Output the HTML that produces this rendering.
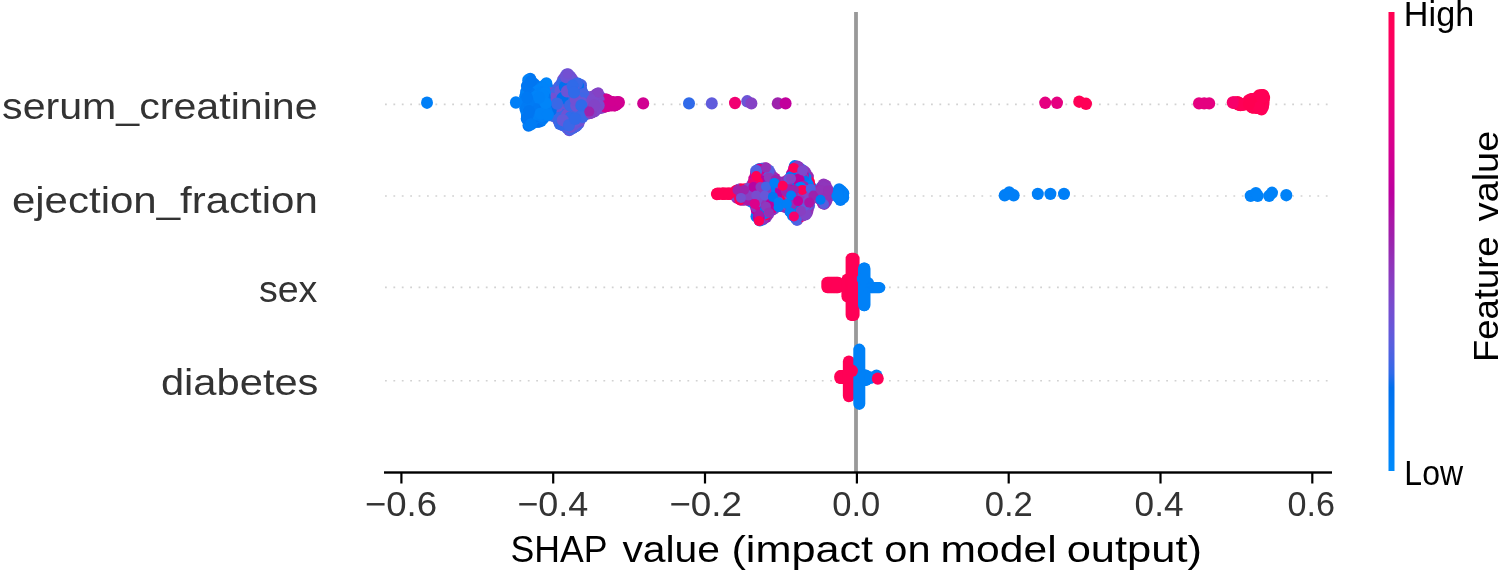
<!DOCTYPE html>
<html><head><meta charset="utf-8"><title>SHAP summary</title>
<style>html,body{margin:0;padding:0;background:#fff;}body{width:1500px;height:573px;position:relative;overflow:hidden;font-family:"Liberation Sans",sans-serif;}</style>
</head><body>
<svg width="1500" height="573" viewBox="0 0 1500 573" style="position:absolute;left:0;top:0;filter:blur(0.5px)">
<defs><linearGradient id="cb" x1="0" y1="1" x2="0" y2="0">
<stop offset="0.000" stop-color="#008bfb"/>
<stop offset="0.030" stop-color="#0086fa"/>
<stop offset="0.061" stop-color="#0082f8"/>
<stop offset="0.091" stop-color="#007ef6"/>
<stop offset="0.121" stop-color="#0079f3"/>
<stop offset="0.152" stop-color="#0074f0"/>
<stop offset="0.182" stop-color="#006fed"/>
<stop offset="0.212" stop-color="#306ae9"/>
<stop offset="0.242" stop-color="#4664e4"/>
<stop offset="0.273" stop-color="#575fdf"/>
<stop offset="0.303" stop-color="#6459da"/>
<stop offset="0.333" stop-color="#6f52d4"/>
<stop offset="0.364" stop-color="#794cce"/>
<stop offset="0.394" stop-color="#8244c7"/>
<stop offset="0.424" stop-color="#8a3cc0"/>
<stop offset="0.455" stop-color="#9233b9"/>
<stop offset="0.485" stop-color="#9829b1"/>
<stop offset="0.515" stop-color="#a01fab"/>
<stop offset="0.545" stop-color="#aa17a7"/>
<stop offset="0.576" stop-color="#b30aa3"/>
<stop offset="0.606" stop-color="#bc009f"/>
<stop offset="0.636" stop-color="#c5009a"/>
<stop offset="0.667" stop-color="#cd0095"/>
<stop offset="0.697" stop-color="#d40090"/>
<stop offset="0.727" stop-color="#db008a"/>
<stop offset="0.758" stop-color="#e10084"/>
<stop offset="0.788" stop-color="#e7007e"/>
<stop offset="0.818" stop-color="#ec0078"/>
<stop offset="0.848" stop-color="#f10072"/>
<stop offset="0.879" stop-color="#f6006c"/>
<stop offset="0.909" stop-color="#fa0065"/>
<stop offset="0.939" stop-color="#fd005f"/>
<stop offset="0.970" stop-color="#ff0058"/>
<stop offset="1.000" stop-color="#ff0051"/>
<stop offset="1" stop-color="#ff0051"/>
</linearGradient></defs>
<line x1="385.0" y1="104.4" x2="1332.0" y2="104.4" stroke="#d2d2d2" stroke-width="1.6" stroke-dasharray="1.8 6.6"/>
<line x1="385.0" y1="196.0" x2="1332.0" y2="196.0" stroke="#d2d2d2" stroke-width="1.6" stroke-dasharray="1.8 6.6"/>
<line x1="385.0" y1="287.4" x2="1332.0" y2="287.4" stroke="#d2d2d2" stroke-width="1.6" stroke-dasharray="1.8 6.6"/>
<line x1="385.0" y1="380.8" x2="1332.0" y2="380.8" stroke="#d2d2d2" stroke-width="1.6" stroke-dasharray="1.8 6.6"/>
<rect x="854.1" y="12" width="3.8" height="460.5" fill="#999999"/>
<rect x="821.30" y="276.80" width="12.0" height="16.50" rx="6.0" ry="6.2" fill="#ff0056"/>
<rect x="822.27" y="276.80" width="12.0" height="16.50" rx="6.0" ry="6.2" fill="#ff0056"/>
<rect x="823.25" y="276.80" width="12.0" height="16.50" rx="6.0" ry="6.2" fill="#ff0056"/>
<rect x="824.22" y="276.80" width="12.0" height="16.50" rx="6.0" ry="6.2" fill="#ff0056"/>
<rect x="825.19" y="276.80" width="12.0" height="16.50" rx="6.0" ry="6.2" fill="#ff0056"/>
<rect x="826.16" y="276.80" width="12.0" height="16.50" rx="6.0" ry="6.2" fill="#ff0056"/>
<rect x="827.14" y="276.80" width="12.0" height="16.50" rx="6.0" ry="6.2" fill="#ff0056"/>
<rect x="828.11" y="276.80" width="12.0" height="16.50" rx="6.0" ry="6.2" fill="#ff0056"/>
<rect x="829.08" y="276.80" width="12.0" height="16.50" rx="6.0" ry="6.2" fill="#ff0056"/>
<rect x="830.05" y="276.80" width="12.0" height="16.50" rx="6.0" ry="6.2" fill="#ff0056"/>
<rect x="831.03" y="276.80" width="12.0" height="16.50" rx="6.0" ry="6.2" fill="#ff0056"/>
<rect x="832.00" y="276.80" width="12.0" height="16.50" rx="6.0" ry="6.2" fill="#ff0056"/>
<rect x="841.40" y="273.50" width="12.0" height="29.00" rx="6.0" ry="6.2" fill="#ff0056"/>
<rect x="845.60" y="252.70" width="12.0" height="68.40" rx="6.0" ry="6.2" fill="#ff0056"/>
<rect x="846.60" y="252.70" width="12.0" height="68.40" rx="6.0" ry="6.2" fill="#ff0056"/>
<rect x="847.60" y="252.70" width="12.0" height="68.40" rx="6.0" ry="6.2" fill="#ff0056"/>
<rect x="858.00" y="262.50" width="12.0" height="48.80" rx="6.0" ry="6.2" fill="#0081f7"/>
<rect x="858.50" y="262.50" width="12.0" height="48.80" rx="6.0" ry="6.2" fill="#0081f7"/>
<rect x="862.00" y="277.00" width="12.0" height="16.50" rx="6.0" ry="6.2" fill="#0081f7"/>
<rect x="865.00" y="282.00" width="12.0" height="11.20" rx="6.0" ry="6.2" fill="#0081f7"/>
<rect x="865.93" y="282.00" width="12.0" height="11.20" rx="6.0" ry="6.2" fill="#0081f7"/>
<rect x="866.87" y="282.00" width="12.0" height="11.20" rx="6.0" ry="6.2" fill="#0081f7"/>
<rect x="867.80" y="282.00" width="12.0" height="11.20" rx="6.0" ry="6.2" fill="#0081f7"/>
<rect x="868.73" y="282.00" width="12.0" height="11.20" rx="6.0" ry="6.2" fill="#0081f7"/>
<rect x="869.67" y="282.00" width="12.0" height="11.20" rx="6.0" ry="6.2" fill="#0081f7"/>
<rect x="870.60" y="282.00" width="12.0" height="11.20" rx="6.0" ry="6.2" fill="#0081f7"/>
<rect x="871.53" y="282.00" width="12.0" height="11.20" rx="6.0" ry="6.2" fill="#0081f7"/>
<rect x="872.47" y="282.00" width="12.0" height="11.20" rx="6.0" ry="6.2" fill="#0081f7"/>
<rect x="873.40" y="282.00" width="12.0" height="11.20" rx="6.0" ry="6.2" fill="#0081f7"/>
<rect x="834.20" y="370.10" width="12.0" height="13.90" rx="6.0" ry="6.2" fill="#ff0056"/>
<rect x="835.13" y="370.10" width="12.0" height="13.90" rx="6.0" ry="6.2" fill="#ff0056"/>
<rect x="836.07" y="370.10" width="12.0" height="13.90" rx="6.0" ry="6.2" fill="#ff0056"/>
<rect x="837.00" y="370.10" width="12.0" height="13.90" rx="6.0" ry="6.2" fill="#ff0056"/>
<rect x="842.85" y="355.40" width="12.0" height="46.80" rx="6.0" ry="6.2" fill="#ff0056"/>
<ellipse cx="588.3" cy="108.7" rx="6.0" ry="6.2" fill="#883fc2"/>
<ellipse cx="557.8" cy="98.9" rx="6.0" ry="6.2" fill="#3968e7"/>
<ellipse cx="615.1" cy="105.1" rx="6.0" ry="6.2" fill="#d6008e"/>
<ellipse cx="588.3" cy="102.7" rx="6.0" ry="6.2" fill="#8a3cc0"/>
<ellipse cx="1261.1" cy="102.3" rx="6.0" ry="6.2" fill="#ff0053"/>
<ellipse cx="561.0" cy="112.2" rx="6.0" ry="6.2" fill="#4664e4"/>
<ellipse cx="529.1" cy="84.9" rx="6.0" ry="6.2" fill="#0084f9"/>
<ellipse cx="555.8" cy="90.7" rx="6.0" ry="6.2" fill="#6f52d4"/>
<ellipse cx="546.0" cy="86.2" rx="6.0" ry="6.2" fill="#0081f7"/>
<ellipse cx="525.6" cy="105.9" rx="6.0" ry="6.2" fill="#0076f1"/>
<ellipse cx="558.5" cy="115.7" rx="6.0" ry="6.2" fill="#6f52d4"/>
<ellipse cx="569.7" cy="127.7" rx="6.0" ry="6.2" fill="#4664e4"/>
<ellipse cx="564.5" cy="118.3" rx="6.0" ry="6.2" fill="#4066e6"/>
<ellipse cx="592.7" cy="102.4" rx="6.0" ry="6.2" fill="#962db3"/>
<ellipse cx="1233.6" cy="102.6" rx="6.0" ry="6.2" fill="#f7006a"/>
<ellipse cx="592.9" cy="106.6" rx="6.0" ry="6.2" fill="#8244c7"/>
<ellipse cx="532.1" cy="101.6" rx="6.0" ry="6.2" fill="#0082f8"/>
<ellipse cx="582.4" cy="100.8" rx="6.0" ry="6.2" fill="#4066e6"/>
<ellipse cx="558.6" cy="113.3" rx="6.0" ry="6.2" fill="#6f52d4"/>
<ellipse cx="527.1" cy="100.1" rx="6.0" ry="6.2" fill="#0081f7"/>
<ellipse cx="582.7" cy="103.4" rx="6.0" ry="6.2" fill="#006fed"/>
<ellipse cx="564.9" cy="123.2" rx="6.0" ry="6.2" fill="#4066e6"/>
<ellipse cx="528.4" cy="88.4" rx="6.0" ry="6.2" fill="#007bf4"/>
<ellipse cx="574.2" cy="126.9" rx="6.0" ry="6.2" fill="#4066e6"/>
<ellipse cx="558.1" cy="108.6" rx="6.0" ry="6.2" fill="#3968e7"/>
<ellipse cx="587.6" cy="111.0" rx="6.0" ry="6.2" fill="#5b5ddd"/>
<ellipse cx="568.6" cy="103.9" rx="6.0" ry="6.2" fill="#4066e6"/>
<ellipse cx="558.8" cy="118.1" rx="6.0" ry="6.2" fill="#3968e7"/>
<ellipse cx="1248.4" cy="102.3" rx="6.0" ry="6.2" fill="#ff0051"/>
<ellipse cx="1258.1" cy="107.8" rx="6.0" ry="6.2" fill="#ff0056"/>
<ellipse cx="576.7" cy="86.0" rx="6.0" ry="6.2" fill="#306ae9"/>
<ellipse cx="594.2" cy="96.1" rx="6.0" ry="6.2" fill="#8a3cc0"/>
<ellipse cx="589.4" cy="100.1" rx="6.0" ry="6.2" fill="#883fc2"/>
<ellipse cx="574.8" cy="97.3" rx="6.0" ry="6.2" fill="#3968e7"/>
<ellipse cx="562.3" cy="107.8" rx="6.0" ry="6.2" fill="#6857d8"/>
<ellipse cx="567.6" cy="128.4" rx="6.0" ry="6.2" fill="#3968e7"/>
<ellipse cx="570.9" cy="112.6" rx="6.0" ry="6.2" fill="#306ae9"/>
<ellipse cx="564.5" cy="86.5" rx="6.0" ry="6.2" fill="#3968e7"/>
<ellipse cx="561.8" cy="122.1" rx="6.0" ry="6.2" fill="#306ae9"/>
<ellipse cx="567.3" cy="123.5" rx="6.0" ry="6.2" fill="#3968e7"/>
<ellipse cx="542.0" cy="99.1" rx="6.0" ry="6.2" fill="#0082f8"/>
<ellipse cx="569.1" cy="115.5" rx="6.0" ry="6.2" fill="#306ae9"/>
<ellipse cx="578.5" cy="123.4" rx="6.0" ry="6.2" fill="#6857d8"/>
<ellipse cx="526.5" cy="109.4" rx="6.0" ry="6.2" fill="#0085f9"/>
<ellipse cx="567.4" cy="106.4" rx="6.0" ry="6.2" fill="#4066e6"/>
<ellipse cx="547.4" cy="112.6" rx="6.0" ry="6.2" fill="#007ff7"/>
<ellipse cx="550.7" cy="112.7" rx="6.0" ry="6.2" fill="#4664e4"/>
<ellipse cx="558.0" cy="91.9" rx="6.0" ry="6.2" fill="#4066e6"/>
<ellipse cx="543.9" cy="114.1" rx="6.0" ry="6.2" fill="#0082f8"/>
<ellipse cx="546.4" cy="83.5" rx="6.0" ry="6.2" fill="#0085f9"/>
<ellipse cx="551.5" cy="91.2" rx="6.0" ry="6.2" fill="#3968e7"/>
<ellipse cx="602.7" cy="102.0" rx="6.0" ry="6.2" fill="#9829b1"/>
<ellipse cx="564.8" cy="115.8" rx="6.0" ry="6.2" fill="#3968e7"/>
<ellipse cx="1252.0" cy="101.7" rx="6.0" ry="6.2" fill="#ff0058"/>
<ellipse cx="531.1" cy="99.2" rx="6.0" ry="6.2" fill="#007cf5"/>
<ellipse cx="568.6" cy="101.5" rx="6.0" ry="6.2" fill="#3968e7"/>
<ellipse cx="585.0" cy="101.1" rx="6.0" ry="6.2" fill="#4066e6"/>
<ellipse cx="561.1" cy="105.4" rx="6.0" ry="6.2" fill="#006fed"/>
<ellipse cx="540.4" cy="102.3" rx="6.0" ry="6.2" fill="#0077f2"/>
<ellipse cx="583.9" cy="114.0" rx="6.0" ry="6.2" fill="#6f52d4"/>
<ellipse cx="585.1" cy="108.8" rx="6.0" ry="6.2" fill="#6f52d4"/>
<ellipse cx="530.4" cy="122.0" rx="6.0" ry="6.2" fill="#007bf4"/>
<ellipse cx="565.5" cy="93.6" rx="6.0" ry="6.2" fill="#7350d2"/>
<ellipse cx="580.8" cy="92.4" rx="6.0" ry="6.2" fill="#6459da"/>
<ellipse cx="550.2" cy="105.3" rx="6.0" ry="6.2" fill="#4066e6"/>
<ellipse cx="552.6" cy="96.2" rx="6.0" ry="6.2" fill="#3968e7"/>
<ellipse cx="574.4" cy="99.8" rx="6.0" ry="6.2" fill="#306ae9"/>
<ellipse cx="555.5" cy="102.4" rx="6.0" ry="6.2" fill="#3968e7"/>
<ellipse cx="561.3" cy="84.2" rx="6.0" ry="6.2" fill="#306ae9"/>
<ellipse cx="579.1" cy="104.3" rx="6.0" ry="6.2" fill="#6459da"/>
<ellipse cx="526.5" cy="95.4" rx="6.0" ry="6.2" fill="#0079f3"/>
<ellipse cx="531.4" cy="87.1" rx="6.0" ry="6.2" fill="#0082f8"/>
<ellipse cx="1261.6" cy="95.2" rx="6.0" ry="6.2" fill="#ff0056"/>
<ellipse cx="578.8" cy="109.4" rx="6.0" ry="6.2" fill="#3968e7"/>
<ellipse cx="567.1" cy="125.9" rx="6.0" ry="6.2" fill="#6857d8"/>
<ellipse cx="573.1" cy="114.6" rx="6.0" ry="6.2" fill="#4066e6"/>
<ellipse cx="573.7" cy="117.1" rx="6.0" ry="6.2" fill="#6857d8"/>
<ellipse cx="551.9" cy="100.9" rx="6.0" ry="6.2" fill="#7350d2"/>
<ellipse cx="546.2" cy="105.6" rx="6.0" ry="6.2" fill="#0086fa"/>
<ellipse cx="1256.1" cy="107.6" rx="6.0" ry="6.2" fill="#ff0058"/>
<ellipse cx="548.3" cy="103.3" rx="6.0" ry="6.2" fill="#0081f7"/>
<ellipse cx="570.4" cy="115.0" rx="6.0" ry="6.2" fill="#006fed"/>
<ellipse cx="550.7" cy="90.6" rx="6.0" ry="6.2" fill="#6f52d4"/>
<ellipse cx="562.6" cy="91.2" rx="6.0" ry="6.2" fill="#6857d8"/>
<ellipse cx="531.8" cy="120.8" rx="6.0" ry="6.2" fill="#0085f9"/>
<ellipse cx="542.1" cy="106.4" rx="6.0" ry="6.2" fill="#0085f9"/>
<ellipse cx="577.0" cy="125.1" rx="6.0" ry="6.2" fill="#4066e6"/>
<ellipse cx="566.9" cy="107.7" rx="6.0" ry="6.2" fill="#3968e7"/>
<ellipse cx="570.3" cy="86.3" rx="6.0" ry="6.2" fill="#4664e4"/>
<ellipse cx="568.0" cy="116.2" rx="6.0" ry="6.2" fill="#4066e6"/>
<ellipse cx="565.8" cy="81.7" rx="6.0" ry="6.2" fill="#3968e7"/>
<ellipse cx="552.8" cy="101.1" rx="6.0" ry="6.2" fill="#3968e7"/>
<ellipse cx="533.0" cy="103.3" rx="6.0" ry="6.2" fill="#007ef6"/>
<ellipse cx="616.3" cy="102.4" rx="6.0" ry="6.2" fill="#cf0093"/>
<ellipse cx="547.4" cy="103.0" rx="6.0" ry="6.2" fill="#0084f9"/>
<ellipse cx="596.0" cy="96.9" rx="6.0" ry="6.2" fill="#a31daa"/>
<ellipse cx="1246.8" cy="103.5" rx="6.0" ry="6.2" fill="#ff0056"/>
<ellipse cx="562.3" cy="103.1" rx="6.0" ry="6.2" fill="#6c54d6"/>
<ellipse cx="1261.6" cy="99.7" rx="6.0" ry="6.2" fill="#ff0053"/>
<ellipse cx="542.8" cy="86.9" rx="6.0" ry="6.2" fill="#0074f0"/>
<ellipse cx="569.1" cy="91.3" rx="6.0" ry="6.2" fill="#4066e6"/>
<ellipse cx="592.4" cy="107.3" rx="6.0" ry="6.2" fill="#7d49cc"/>
<ellipse cx="559.7" cy="119.2" rx="6.0" ry="6.2" fill="#306ae9"/>
<ellipse cx="613.6" cy="102.6" rx="6.0" ry="6.2" fill="#d6008e"/>
<ellipse cx="603.3" cy="102.0" rx="6.0" ry="6.2" fill="#794cce"/>
<ellipse cx="1255.6" cy="105.5" rx="6.0" ry="6.2" fill="#ff0056"/>
<ellipse cx="559.6" cy="86.5" rx="6.0" ry="6.2" fill="#6c54d6"/>
<ellipse cx="585.0" cy="106.2" rx="6.0" ry="6.2" fill="#306ae9"/>
<ellipse cx="531.2" cy="102.8" rx="6.0" ry="6.2" fill="#0074f0"/>
<ellipse cx="545.5" cy="90.9" rx="6.0" ry="6.2" fill="#0079f3"/>
<ellipse cx="563.0" cy="88.9" rx="6.0" ry="6.2" fill="#4664e4"/>
<ellipse cx="579.5" cy="99.5" rx="6.0" ry="6.2" fill="#4664e4"/>
<ellipse cx="595.4" cy="100.8" rx="6.0" ry="6.2" fill="#8244c7"/>
<ellipse cx="534.1" cy="112.2" rx="6.0" ry="6.2" fill="#0074f0"/>
<ellipse cx="542.1" cy="89.4" rx="6.0" ry="6.2" fill="#007ff7"/>
<ellipse cx="609.4" cy="103.5" rx="6.0" ry="6.2" fill="#d6008e"/>
<ellipse cx="535.7" cy="121.5" rx="6.0" ry="6.2" fill="#0085f9"/>
<ellipse cx="555.3" cy="113.3" rx="6.0" ry="6.2" fill="#4066e6"/>
<ellipse cx="552.5" cy="113.1" rx="6.0" ry="6.2" fill="#3968e7"/>
<ellipse cx="576.5" cy="90.4" rx="6.0" ry="6.2" fill="#4066e6"/>
<ellipse cx="537.5" cy="102.2" rx="6.0" ry="6.2" fill="#0081f7"/>
<ellipse cx="1239.6" cy="104.9" rx="6.0" ry="6.2" fill="#ff0056"/>
<ellipse cx="535.6" cy="86.2" rx="6.0" ry="6.2" fill="#0082f8"/>
<ellipse cx="565.9" cy="100.7" rx="6.0" ry="6.2" fill="#3968e7"/>
<ellipse cx="534.6" cy="121.7" rx="6.0" ry="6.2" fill="#007bf4"/>
<ellipse cx="565.7" cy="96.3" rx="6.0" ry="6.2" fill="#6857d8"/>
<ellipse cx="586.3" cy="111.1" rx="6.0" ry="6.2" fill="#3968e7"/>
<ellipse cx="567.2" cy="117.2" rx="6.0" ry="6.2" fill="#6f52d4"/>
<ellipse cx="529.4" cy="89.7" rx="6.0" ry="6.2" fill="#007bf4"/>
<ellipse cx="550.7" cy="105.7" rx="6.0" ry="6.2" fill="#3968e7"/>
<ellipse cx="583.7" cy="98.8" rx="6.0" ry="6.2" fill="#4066e6"/>
<ellipse cx="586.2" cy="104.0" rx="6.0" ry="6.2" fill="#3968e7"/>
<ellipse cx="556.6" cy="97.7" rx="6.0" ry="6.2" fill="#4664e4"/>
<ellipse cx="569.9" cy="120.4" rx="6.0" ry="6.2" fill="#4664e4"/>
<ellipse cx="542.9" cy="104.0" rx="6.0" ry="6.2" fill="#0085f9"/>
<ellipse cx="575.6" cy="109.4" rx="6.0" ry="6.2" fill="#6f52d4"/>
<ellipse cx="1253.3" cy="99.5" rx="6.0" ry="6.2" fill="#ff0053"/>
<ellipse cx="530.9" cy="119.6" rx="6.0" ry="6.2" fill="#0085f9"/>
<ellipse cx="565.5" cy="76.8" rx="6.0" ry="6.2" fill="#7350d2"/>
<ellipse cx="528.4" cy="83.7" rx="6.0" ry="6.2" fill="#0081f7"/>
<ellipse cx="568.7" cy="86.8" rx="6.0" ry="6.2" fill="#4664e4"/>
<ellipse cx="566.4" cy="112.5" rx="6.0" ry="6.2" fill="#6f52d4"/>
<ellipse cx="530.7" cy="114.8" rx="6.0" ry="6.2" fill="#0079f3"/>
<ellipse cx="539.3" cy="92.7" rx="6.0" ry="6.2" fill="#007bf4"/>
<ellipse cx="589.8" cy="102.6" rx="6.0" ry="6.2" fill="#8542c5"/>
<ellipse cx="569.4" cy="101.0" rx="6.0" ry="6.2" fill="#3968e7"/>
<ellipse cx="565.8" cy="84.2" rx="6.0" ry="6.2" fill="#3968e7"/>
<ellipse cx="558.5" cy="120.5" rx="6.0" ry="6.2" fill="#6c54d6"/>
<ellipse cx="537.1" cy="92.6" rx="6.0" ry="6.2" fill="#007ef6"/>
<ellipse cx="557.0" cy="100.1" rx="6.0" ry="6.2" fill="#3968e7"/>
<ellipse cx="596.2" cy="106.6" rx="6.0" ry="6.2" fill="#a01fab"/>
<ellipse cx="582.5" cy="108.0" rx="6.0" ry="6.2" fill="#306ae9"/>
<ellipse cx="594.2" cy="110.1" rx="6.0" ry="6.2" fill="#794cce"/>
<ellipse cx="564.3" cy="103.3" rx="6.0" ry="6.2" fill="#4066e6"/>
<ellipse cx="554.1" cy="106.0" rx="6.0" ry="6.2" fill="#006fed"/>
<ellipse cx="573.0" cy="123.4" rx="6.0" ry="6.2" fill="#3968e7"/>
<ellipse cx="540.2" cy="97.1" rx="6.0" ry="6.2" fill="#007ff7"/>
<ellipse cx="585.5" cy="96.9" rx="6.0" ry="6.2" fill="#4066e6"/>
<ellipse cx="526.1" cy="103.6" rx="6.0" ry="6.2" fill="#0085f9"/>
<ellipse cx="594.3" cy="111.3" rx="6.0" ry="6.2" fill="#8047c9"/>
<ellipse cx="602.3" cy="107.1" rx="6.0" ry="6.2" fill="#605bdc"/>
<ellipse cx="561.4" cy="117.3" rx="6.0" ry="6.2" fill="#6f52d4"/>
<ellipse cx="574.2" cy="119.5" rx="6.0" ry="6.2" fill="#4066e6"/>
<ellipse cx="607.3" cy="101.8" rx="6.0" ry="6.2" fill="#cf0093"/>
<ellipse cx="572.3" cy="97.6" rx="6.0" ry="6.2" fill="#4066e6"/>
<ellipse cx="567.3" cy="99.0" rx="6.0" ry="6.2" fill="#3968e7"/>
<ellipse cx="552.0" cy="98.4" rx="6.0" ry="6.2" fill="#6f52d4"/>
<ellipse cx="542.1" cy="96.7" rx="6.0" ry="6.2" fill="#0086fa"/>
<ellipse cx="1259.5" cy="99.7" rx="6.0" ry="6.2" fill="#ff0056"/>
<ellipse cx="576.4" cy="88.0" rx="6.0" ry="6.2" fill="#4066e6"/>
<ellipse cx="1252.0" cy="107.0" rx="6.0" ry="6.2" fill="#ff0058"/>
<ellipse cx="557.5" cy="115.3" rx="6.0" ry="6.2" fill="#3968e7"/>
<ellipse cx="575.9" cy="85.6" rx="6.0" ry="6.2" fill="#6c54d6"/>
<ellipse cx="594.3" cy="103.1" rx="6.0" ry="6.2" fill="#8047c9"/>
<ellipse cx="592.2" cy="97.5" rx="6.0" ry="6.2" fill="#8244c7"/>
<ellipse cx="547.8" cy="112.6" rx="6.0" ry="6.2" fill="#0076f1"/>
<ellipse cx="574.4" cy="124.5" rx="6.0" ry="6.2" fill="#4066e6"/>
<ellipse cx="546.6" cy="110.2" rx="6.0" ry="6.2" fill="#007bf4"/>
<ellipse cx="530.1" cy="88.5" rx="6.0" ry="6.2" fill="#0077f2"/>
<ellipse cx="578.0" cy="114.1" rx="6.0" ry="6.2" fill="#4066e6"/>
<ellipse cx="548.0" cy="110.3" rx="6.0" ry="6.2" fill="#0076f1"/>
<ellipse cx="537.0" cy="111.7" rx="6.0" ry="6.2" fill="#0085f9"/>
<ellipse cx="565.3" cy="89.0" rx="6.0" ry="6.2" fill="#6f52d4"/>
<ellipse cx="607.9" cy="105.6" rx="6.0" ry="6.2" fill="#ca0097"/>
<ellipse cx="578.0" cy="97.7" rx="6.0" ry="6.2" fill="#3968e7"/>
<ellipse cx="576.3" cy="98.2" rx="6.0" ry="6.2" fill="#6459da"/>
<ellipse cx="566.4" cy="74.8" rx="6.0" ry="6.2" fill="#6857d8"/>
<ellipse cx="535.6" cy="100.4" rx="6.0" ry="6.2" fill="#007bf4"/>
<ellipse cx="561.8" cy="110.2" rx="6.0" ry="6.2" fill="#306ae9"/>
<ellipse cx="568.6" cy="113.1" rx="6.0" ry="6.2" fill="#4066e6"/>
<ellipse cx="1257.5" cy="102.8" rx="6.0" ry="6.2" fill="#ff0058"/>
<ellipse cx="1258.1" cy="105.4" rx="6.0" ry="6.2" fill="#ff0056"/>
<ellipse cx="533.6" cy="115.1" rx="6.0" ry="6.2" fill="#0084f9"/>
<ellipse cx="588.4" cy="110.5" rx="6.0" ry="6.2" fill="#6857d8"/>
<ellipse cx="538.8" cy="87.8" rx="6.0" ry="6.2" fill="#0084f9"/>
<ellipse cx="573.9" cy="104.7" rx="6.0" ry="6.2" fill="#3968e7"/>
<ellipse cx="1237.9" cy="104.3" rx="6.0" ry="6.2" fill="#ff0056"/>
<ellipse cx="545.0" cy="98.2" rx="6.0" ry="6.2" fill="#0085f9"/>
<ellipse cx="548.3" cy="98.6" rx="6.0" ry="6.2" fill="#0081f7"/>
<ellipse cx="579.3" cy="118.7" rx="6.0" ry="6.2" fill="#4066e6"/>
<ellipse cx="1259.4" cy="105.6" rx="6.0" ry="6.2" fill="#ff0053"/>
<ellipse cx="543.7" cy="102.2" rx="6.0" ry="6.2" fill="#0081f7"/>
<ellipse cx="535.4" cy="98.0" rx="6.0" ry="6.2" fill="#0084f9"/>
<ellipse cx="546.1" cy="85.9" rx="6.0" ry="6.2" fill="#0086fa"/>
<ellipse cx="572.0" cy="110.2" rx="6.0" ry="6.2" fill="#6857d8"/>
<ellipse cx="565.7" cy="93.9" rx="6.0" ry="6.2" fill="#3968e7"/>
<ellipse cx="1252.5" cy="99.5" rx="6.0" ry="6.2" fill="#ff0058"/>
<ellipse cx="537.4" cy="116.7" rx="6.0" ry="6.2" fill="#007ff7"/>
<ellipse cx="577.6" cy="102.3" rx="6.0" ry="6.2" fill="#4664e4"/>
<ellipse cx="596.6" cy="104.2" rx="6.0" ry="6.2" fill="#883fc2"/>
<ellipse cx="583.5" cy="101.1" rx="6.0" ry="6.2" fill="#3968e7"/>
<ellipse cx="553.6" cy="101.1" rx="6.0" ry="6.2" fill="#4664e4"/>
<ellipse cx="1260.2" cy="97.5" rx="6.0" ry="6.2" fill="#ff0051"/>
<ellipse cx="537.9" cy="121.5" rx="6.0" ry="6.2" fill="#0077f2"/>
<ellipse cx="606.5" cy="106.0" rx="6.0" ry="6.2" fill="#d6008e"/>
<ellipse cx="1260.3" cy="102.0" rx="6.0" ry="6.2" fill="#ff0058"/>
<ellipse cx="597.4" cy="99.4" rx="6.0" ry="6.2" fill="#8a3cc0"/>
<ellipse cx="544.5" cy="92.7" rx="6.0" ry="6.2" fill="#0086fa"/>
<ellipse cx="560.9" cy="105.2" rx="6.0" ry="6.2" fill="#4066e6"/>
<ellipse cx="563.7" cy="122.6" rx="6.0" ry="6.2" fill="#3968e7"/>
<ellipse cx="544.7" cy="104.6" rx="6.0" ry="6.2" fill="#007cf5"/>
<ellipse cx="576.4" cy="92.8" rx="6.0" ry="6.2" fill="#4066e6"/>
<ellipse cx="540.5" cy="101.9" rx="6.0" ry="6.2" fill="#0084f9"/>
<ellipse cx="576.9" cy="122.7" rx="6.0" ry="6.2" fill="#4664e4"/>
<ellipse cx="571.2" cy="103.0" rx="6.0" ry="6.2" fill="#4664e4"/>
<ellipse cx="549.3" cy="100.9" rx="6.0" ry="6.2" fill="#6c54d6"/>
<ellipse cx="579.9" cy="111.4" rx="6.0" ry="6.2" fill="#3968e7"/>
<ellipse cx="548.9" cy="89.3" rx="6.0" ry="6.2" fill="#0076f1"/>
<ellipse cx="530.7" cy="90.8" rx="6.0" ry="6.2" fill="#0082f8"/>
<ellipse cx="594.0" cy="101.8" rx="6.0" ry="6.2" fill="#8244c7"/>
<ellipse cx="613.4" cy="102.7" rx="6.0" ry="6.2" fill="#ca0097"/>
<ellipse cx="594.5" cy="99.4" rx="6.0" ry="6.2" fill="#7d49cc"/>
<ellipse cx="547.6" cy="100.6" rx="6.0" ry="6.2" fill="#0081f7"/>
<ellipse cx="540.0" cy="119.1" rx="6.0" ry="6.2" fill="#007bf4"/>
<ellipse cx="1262.8" cy="104.6" rx="6.0" ry="6.2" fill="#ff0056"/>
<ellipse cx="607.1" cy="103.9" rx="6.0" ry="6.2" fill="#d10091"/>
<ellipse cx="1256.1" cy="103.4" rx="6.0" ry="6.2" fill="#ff0058"/>
<ellipse cx="568.8" cy="96.6" rx="6.0" ry="6.2" fill="#4066e6"/>
<ellipse cx="577.6" cy="93.0" rx="6.0" ry="6.2" fill="#3968e7"/>
<ellipse cx="578.0" cy="83.6" rx="6.0" ry="6.2" fill="#306ae9"/>
<ellipse cx="565.6" cy="79.5" rx="6.0" ry="6.2" fill="#764ed0"/>
<ellipse cx="529.8" cy="82.6" rx="6.0" ry="6.2" fill="#007ef6"/>
<ellipse cx="1263.0" cy="95.2" rx="6.0" ry="6.2" fill="#ff0051"/>
<ellipse cx="554.2" cy="96.2" rx="6.0" ry="6.2" fill="#3968e7"/>
<ellipse cx="530.2" cy="78.9" rx="6.0" ry="6.2" fill="#0076f1"/>
<ellipse cx="579.1" cy="90.0" rx="6.0" ry="6.2" fill="#4066e6"/>
<ellipse cx="555.4" cy="91.3" rx="6.0" ry="6.2" fill="#3968e7"/>
<ellipse cx="581.9" cy="107.7" rx="6.0" ry="6.2" fill="#3968e7"/>
<ellipse cx="550.2" cy="97.9" rx="6.0" ry="6.2" fill="#0071ee"/>
<ellipse cx="531.3" cy="118.4" rx="6.0" ry="6.2" fill="#0076f1"/>
<ellipse cx="1261.0" cy="106.5" rx="6.0" ry="6.2" fill="#ff0058"/>
<ellipse cx="1253.4" cy="107.6" rx="6.0" ry="6.2" fill="#ff0053"/>
<ellipse cx="540.4" cy="118.5" rx="6.0" ry="6.2" fill="#0082f8"/>
<ellipse cx="538.5" cy="111.9" rx="6.0" ry="6.2" fill="#0086fa"/>
<ellipse cx="569.4" cy="118.0" rx="6.0" ry="6.2" fill="#3968e7"/>
<ellipse cx="576.3" cy="88.5" rx="6.0" ry="6.2" fill="#4066e6"/>
<ellipse cx="540.0" cy="90.0" rx="6.0" ry="6.2" fill="#007ff7"/>
<ellipse cx="531.8" cy="89.5" rx="6.0" ry="6.2" fill="#0077f2"/>
<ellipse cx="556.8" cy="109.4" rx="6.0" ry="6.2" fill="#6857d8"/>
<ellipse cx="534.4" cy="100.9" rx="6.0" ry="6.2" fill="#007bf4"/>
<ellipse cx="564.4" cy="100.9" rx="6.0" ry="6.2" fill="#3968e7"/>
<ellipse cx="535.7" cy="119.1" rx="6.0" ry="6.2" fill="#007cf5"/>
<ellipse cx="554.4" cy="98.6" rx="6.0" ry="6.2" fill="#4066e6"/>
<ellipse cx="530.0" cy="120.7" rx="6.0" ry="6.2" fill="#0077f2"/>
<ellipse cx="543.1" cy="116.2" rx="6.0" ry="6.2" fill="#0074f0"/>
<ellipse cx="546.1" cy="91.0" rx="6.0" ry="6.2" fill="#0084f9"/>
<ellipse cx="598.9" cy="98.6" rx="6.0" ry="6.2" fill="#8542c5"/>
<ellipse cx="569.8" cy="98.6" rx="6.0" ry="6.2" fill="#3968e7"/>
<ellipse cx="573.3" cy="83.5" rx="6.0" ry="6.2" fill="#3968e7"/>
<ellipse cx="551.7" cy="115.3" rx="6.0" ry="6.2" fill="#4066e6"/>
<ellipse cx="539.0" cy="95.1" rx="6.0" ry="6.2" fill="#0085f9"/>
<ellipse cx="529.7" cy="96.9" rx="6.0" ry="6.2" fill="#0082f8"/>
<ellipse cx="528.1" cy="99.3" rx="6.0" ry="6.2" fill="#007cf5"/>
<ellipse cx="558.6" cy="94.3" rx="6.0" ry="6.2" fill="#4664e4"/>
<ellipse cx="558.7" cy="89.6" rx="6.0" ry="6.2" fill="#4066e6"/>
<ellipse cx="602.8" cy="99.4" rx="6.0" ry="6.2" fill="#7d49cc"/>
<ellipse cx="562.1" cy="88.8" rx="6.0" ry="6.2" fill="#3968e7"/>
<ellipse cx="609.4" cy="105.3" rx="6.0" ry="6.2" fill="#cf0093"/>
<ellipse cx="1256.5" cy="100.9" rx="6.0" ry="6.2" fill="#ff0051"/>
<ellipse cx="539.3" cy="114.3" rx="6.0" ry="6.2" fill="#0079f3"/>
<ellipse cx="563.1" cy="105.7" rx="6.0" ry="6.2" fill="#6857d8"/>
<ellipse cx="562.8" cy="95.9" rx="6.0" ry="6.2" fill="#4066e6"/>
<ellipse cx="541.9" cy="91.8" rx="6.0" ry="6.2" fill="#0084f9"/>
<ellipse cx="593.4" cy="97.0" rx="6.0" ry="6.2" fill="#8a3cc0"/>
<ellipse cx="531.8" cy="94.4" rx="6.0" ry="6.2" fill="#0084f9"/>
<ellipse cx="569.2" cy="130.1" rx="6.0" ry="6.2" fill="#7350d2"/>
<ellipse cx="552.6" cy="105.9" rx="6.0" ry="6.2" fill="#4664e4"/>
<ellipse cx="565.8" cy="105.4" rx="6.0" ry="6.2" fill="#186deb"/>
<ellipse cx="590.6" cy="110.3" rx="6.0" ry="6.2" fill="#8047c9"/>
<ellipse cx="1237.7" cy="103.7" rx="6.0" ry="6.2" fill="#ff0051"/>
<ellipse cx="556.5" cy="95.4" rx="6.0" ry="6.2" fill="#6857d8"/>
<ellipse cx="1262.5" cy="98.5" rx="6.0" ry="6.2" fill="#ff0058"/>
<ellipse cx="572.6" cy="128.1" rx="6.0" ry="6.2" fill="#4066e6"/>
<ellipse cx="528.5" cy="125.5" rx="6.0" ry="6.2" fill="#0076f1"/>
<ellipse cx="538.7" cy="107.0" rx="6.0" ry="6.2" fill="#0076f1"/>
<ellipse cx="535.9" cy="119.3" rx="6.0" ry="6.2" fill="#007bf4"/>
<ellipse cx="531.7" cy="113.6" rx="6.0" ry="6.2" fill="#007cf5"/>
<ellipse cx="565.9" cy="96.0" rx="6.0" ry="6.2" fill="#3968e7"/>
<ellipse cx="575.8" cy="126.0" rx="6.0" ry="6.2" fill="#4664e4"/>
<ellipse cx="583.2" cy="110.3" rx="6.0" ry="6.2" fill="#4664e4"/>
<ellipse cx="538.0" cy="119.1" rx="6.0" ry="6.2" fill="#007cf5"/>
<ellipse cx="1235.1" cy="102.6" rx="6.0" ry="6.2" fill="#ff0056"/>
<ellipse cx="586.2" cy="108.7" rx="6.0" ry="6.2" fill="#4066e6"/>
<ellipse cx="569.5" cy="93.8" rx="6.0" ry="6.2" fill="#4066e6"/>
<ellipse cx="533.5" cy="91.4" rx="6.0" ry="6.2" fill="#0082f8"/>
<ellipse cx="576.2" cy="120.2" rx="6.0" ry="6.2" fill="#4066e6"/>
<ellipse cx="567.1" cy="91.7" rx="6.0" ry="6.2" fill="#4066e6"/>
<ellipse cx="572.7" cy="109.3" rx="6.0" ry="6.2" fill="#4066e6"/>
<ellipse cx="1263.5" cy="103.9" rx="6.0" ry="6.2" fill="#ff0053"/>
<ellipse cx="560.7" cy="95.9" rx="6.0" ry="6.2" fill="#3968e7"/>
<ellipse cx="1258.7" cy="100.4" rx="6.0" ry="6.2" fill="#ff0053"/>
<ellipse cx="539.4" cy="87.9" rx="6.0" ry="6.2" fill="#0085f9"/>
<ellipse cx="558.0" cy="110.7" rx="6.0" ry="6.2" fill="#4066e6"/>
<ellipse cx="1248.7" cy="103.0" rx="6.0" ry="6.2" fill="#ff0053"/>
<ellipse cx="525.1" cy="96.6" rx="6.0" ry="6.2" fill="#007ef6"/>
<ellipse cx="537.7" cy="104.6" rx="6.0" ry="6.2" fill="#0085f9"/>
<ellipse cx="586.1" cy="106.4" rx="6.0" ry="6.2" fill="#4664e4"/>
<ellipse cx="553.0" cy="108.3" rx="6.0" ry="6.2" fill="#3968e7"/>
<ellipse cx="549.3" cy="94.0" rx="6.0" ry="6.2" fill="#4664e4"/>
<ellipse cx="547.0" cy="93.4" rx="6.0" ry="6.2" fill="#0079f3"/>
<ellipse cx="596.4" cy="101.8" rx="6.0" ry="6.2" fill="#9a25ae"/>
<ellipse cx="586.6" cy="99.3" rx="6.0" ry="6.2" fill="#4664e4"/>
<ellipse cx="539.4" cy="104.7" rx="6.0" ry="6.2" fill="#007bf4"/>
<ellipse cx="545.7" cy="115.5" rx="6.0" ry="6.2" fill="#0079f3"/>
<ellipse cx="1258.1" cy="97.0" rx="6.0" ry="6.2" fill="#ff0053"/>
<ellipse cx="592.5" cy="109.8" rx="6.0" ry="6.2" fill="#9a25ae"/>
<ellipse cx="573.5" cy="102.3" rx="6.0" ry="6.2" fill="#4664e4"/>
<ellipse cx="579.5" cy="97.1" rx="6.0" ry="6.2" fill="#3968e7"/>
<ellipse cx="528.8" cy="94.5" rx="6.0" ry="6.2" fill="#0081f7"/>
<ellipse cx="1259.2" cy="95.4" rx="6.0" ry="6.2" fill="#ff0051"/>
<ellipse cx="570.4" cy="76.8" rx="6.0" ry="6.2" fill="#6857d8"/>
<ellipse cx="584.7" cy="103.7" rx="6.0" ry="6.2" fill="#306ae9"/>
<ellipse cx="594.7" cy="98.5" rx="6.0" ry="6.2" fill="#a31daa"/>
<ellipse cx="604.3" cy="104.4" rx="6.0" ry="6.2" fill="#d40090"/>
<ellipse cx="602.0" cy="104.6" rx="6.0" ry="6.2" fill="#8244c7"/>
<ellipse cx="581.8" cy="91.5" rx="6.0" ry="6.2" fill="#3968e7"/>
<ellipse cx="532.7" cy="93.8" rx="6.0" ry="6.2" fill="#0079f3"/>
<ellipse cx="526.6" cy="102.4" rx="6.0" ry="6.2" fill="#007cf5"/>
<ellipse cx="530.5" cy="86.1" rx="6.0" ry="6.2" fill="#0077f2"/>
<ellipse cx="567.3" cy="81.9" rx="6.0" ry="6.2" fill="#306ae9"/>
<ellipse cx="567.3" cy="121.9" rx="6.0" ry="6.2" fill="#6c54d6"/>
<ellipse cx="553.0" cy="91.4" rx="6.0" ry="6.2" fill="#186deb"/>
<ellipse cx="554.4" cy="103.5" rx="6.0" ry="6.2" fill="#306ae9"/>
<ellipse cx="1239.0" cy="103.0" rx="6.0" ry="6.2" fill="#ff0053"/>
<ellipse cx="541.7" cy="94.2" rx="6.0" ry="6.2" fill="#0076f1"/>
<ellipse cx="568.7" cy="110.7" rx="6.0" ry="6.2" fill="#7350d2"/>
<ellipse cx="529.5" cy="104.0" rx="6.0" ry="6.2" fill="#0077f2"/>
<ellipse cx="600.2" cy="102.6" rx="6.0" ry="6.2" fill="#8047c9"/>
<ellipse cx="1260.8" cy="108.7" rx="6.0" ry="6.2" fill="#ff005a"/>
<ellipse cx="538.6" cy="99.9" rx="6.0" ry="6.2" fill="#0079f3"/>
<ellipse cx="562.4" cy="81.7" rx="6.0" ry="6.2" fill="#4066e6"/>
<ellipse cx="592.8" cy="104.8" rx="6.0" ry="6.2" fill="#883fc2"/>
<ellipse cx="579.2" cy="113.8" rx="6.0" ry="6.2" fill="#4664e4"/>
<ellipse cx="533.1" cy="96.2" rx="6.0" ry="6.2" fill="#0076f1"/>
<ellipse cx="548.7" cy="91.6" rx="6.0" ry="6.2" fill="#0082f8"/>
<ellipse cx="1253.4" cy="104.9" rx="6.0" ry="6.2" fill="#ff0058"/>
<ellipse cx="557.5" cy="101.3" rx="6.0" ry="6.2" fill="#4664e4"/>
<ellipse cx="571.3" cy="95.9" rx="6.0" ry="6.2" fill="#3968e7"/>
<ellipse cx="538.9" cy="97.4" rx="6.0" ry="6.2" fill="#0076f1"/>
<ellipse cx="540.1" cy="104.2" rx="6.0" ry="6.2" fill="#0084f9"/>
<ellipse cx="1263.1" cy="101.2" rx="6.0" ry="6.2" fill="#ff0051"/>
<ellipse cx="575.0" cy="83.3" rx="6.0" ry="6.2" fill="#4066e6"/>
<ellipse cx="564.4" cy="111.0" rx="6.0" ry="6.2" fill="#186deb"/>
<ellipse cx="527.2" cy="90.7" rx="6.0" ry="6.2" fill="#0085f9"/>
<ellipse cx="531.4" cy="105.2" rx="6.0" ry="6.2" fill="#0082f8"/>
<ellipse cx="565.5" cy="98.8" rx="6.0" ry="6.2" fill="#4066e6"/>
<ellipse cx="540.6" cy="106.6" rx="6.0" ry="6.2" fill="#0086fa"/>
<ellipse cx="572.7" cy="114.0" rx="6.0" ry="6.2" fill="#6f52d4"/>
<ellipse cx="1256.0" cy="99.1" rx="6.0" ry="6.2" fill="#ff0051"/>
<ellipse cx="587.9" cy="104.2" rx="6.0" ry="6.2" fill="#883fc2"/>
<ellipse cx="542.6" cy="111.3" rx="6.0" ry="6.2" fill="#0077f2"/>
<ellipse cx="585.5" cy="101.7" rx="6.0" ry="6.2" fill="#6c54d6"/>
<ellipse cx="565.0" cy="103.7" rx="6.0" ry="6.2" fill="#4066e6"/>
<ellipse cx="569.2" cy="81.6" rx="6.0" ry="6.2" fill="#4066e6"/>
<ellipse cx="551.7" cy="96.0" rx="6.0" ry="6.2" fill="#4066e6"/>
<ellipse cx="577.8" cy="115.3" rx="6.0" ry="6.2" fill="#6857d8"/>
<ellipse cx="572.0" cy="104.6" rx="6.0" ry="6.2" fill="#3968e7"/>
<ellipse cx="559.5" cy="88.9" rx="6.0" ry="6.2" fill="#4066e6"/>
<ellipse cx="547.3" cy="115.0" rx="6.0" ry="6.2" fill="#0076f1"/>
<ellipse cx="1254.7" cy="102.1" rx="6.0" ry="6.2" fill="#ff0051"/>
<ellipse cx="533.3" cy="89.1" rx="6.0" ry="6.2" fill="#007ef6"/>
<ellipse cx="536.3" cy="92.1" rx="6.0" ry="6.2" fill="#0086fa"/>
<ellipse cx="526.2" cy="110.6" rx="6.0" ry="6.2" fill="#0086fa"/>
<ellipse cx="587.2" cy="101.9" rx="6.0" ry="6.2" fill="#883fc2"/>
<ellipse cx="1257.2" cy="103.2" rx="6.0" ry="6.2" fill="#ff0053"/>
<ellipse cx="528.1" cy="92.1" rx="6.0" ry="6.2" fill="#0077f2"/>
<ellipse cx="542.7" cy="101.5" rx="6.0" ry="6.2" fill="#0086fa"/>
<ellipse cx="550.2" cy="102.8" rx="6.0" ry="6.2" fill="#3968e7"/>
<ellipse cx="590.0" cy="107.7" rx="6.0" ry="6.2" fill="#794cce"/>
<ellipse cx="570.2" cy="88.9" rx="6.0" ry="6.2" fill="#3968e7"/>
<ellipse cx="573.2" cy="81.1" rx="6.0" ry="6.2" fill="#6f52d4"/>
<ellipse cx="531.3" cy="108.8" rx="6.0" ry="6.2" fill="#0082f8"/>
<ellipse cx="526.3" cy="99.0" rx="6.0" ry="6.2" fill="#007bf4"/>
<ellipse cx="562.8" cy="115.4" rx="6.0" ry="6.2" fill="#306ae9"/>
<ellipse cx="564.5" cy="113.4" rx="6.0" ry="6.2" fill="#6f52d4"/>
<ellipse cx="565.7" cy="98.3" rx="6.0" ry="6.2" fill="#306ae9"/>
<ellipse cx="572.9" cy="118.7" rx="6.0" ry="6.2" fill="#3968e7"/>
<ellipse cx="1244.2" cy="104.2" rx="6.0" ry="6.2" fill="#ff0058"/>
<ellipse cx="586.8" cy="97.4" rx="6.0" ry="6.2" fill="#4066e6"/>
<ellipse cx="576.9" cy="100.7" rx="6.0" ry="6.2" fill="#6c54d6"/>
<ellipse cx="586.6" cy="106.5" rx="6.0" ry="6.2" fill="#4664e4"/>
<ellipse cx="583.2" cy="112.6" rx="6.0" ry="6.2" fill="#7350d2"/>
<ellipse cx="537.9" cy="109.5" rx="6.0" ry="6.2" fill="#0077f2"/>
<ellipse cx="567.2" cy="77.0" rx="6.0" ry="6.2" fill="#6f52d4"/>
<ellipse cx="558.2" cy="96.7" rx="6.0" ry="6.2" fill="#4066e6"/>
<ellipse cx="1250.8" cy="99.5" rx="6.0" ry="6.2" fill="#ff0058"/>
<ellipse cx="555.9" cy="107.1" rx="6.0" ry="6.2" fill="#3968e7"/>
<ellipse cx="536.7" cy="89.7" rx="6.0" ry="6.2" fill="#0085f9"/>
<ellipse cx="565.9" cy="124.2" rx="6.0" ry="6.2" fill="#3968e7"/>
<ellipse cx="530.5" cy="110.0" rx="6.0" ry="6.2" fill="#0076f1"/>
<ellipse cx="546.5" cy="100.7" rx="6.0" ry="6.2" fill="#0076f1"/>
<ellipse cx="563.4" cy="117.8" rx="6.0" ry="6.2" fill="#4664e4"/>
<ellipse cx="579.6" cy="118.5" rx="6.0" ry="6.2" fill="#6c54d6"/>
<ellipse cx="1257.0" cy="107.6" rx="6.0" ry="6.2" fill="#ff0056"/>
<ellipse cx="1254.7" cy="99.4" rx="6.0" ry="6.2" fill="#ff0053"/>
<ellipse cx="1260.8" cy="100.5" rx="6.0" ry="6.2" fill="#ff0056"/>
<ellipse cx="531.5" cy="92.0" rx="6.0" ry="6.2" fill="#007cf5"/>
<ellipse cx="550.8" cy="93.6" rx="6.0" ry="6.2" fill="#306ae9"/>
<ellipse cx="567.2" cy="108.8" rx="6.0" ry="6.2" fill="#6c54d6"/>
<ellipse cx="553.4" cy="103.5" rx="6.0" ry="6.2" fill="#6c54d6"/>
<ellipse cx="546.4" cy="88.6" rx="6.0" ry="6.2" fill="#0084f9"/>
<ellipse cx="576.0" cy="107.0" rx="6.0" ry="6.2" fill="#4066e6"/>
<ellipse cx="531.0" cy="112.4" rx="6.0" ry="6.2" fill="#007ff7"/>
<ellipse cx="552.5" cy="110.7" rx="6.0" ry="6.2" fill="#306ae9"/>
<ellipse cx="534.3" cy="122.2" rx="6.0" ry="6.2" fill="#0086fa"/>
<ellipse cx="543.2" cy="111.7" rx="6.0" ry="6.2" fill="#007ff7"/>
<ellipse cx="564.3" cy="96.1" rx="6.0" ry="6.2" fill="#4066e6"/>
<ellipse cx="567.3" cy="79.4" rx="6.0" ry="6.2" fill="#6857d8"/>
<ellipse cx="1254.4" cy="104.9" rx="6.0" ry="6.2" fill="#ff0051"/>
<ellipse cx="565.5" cy="86.6" rx="6.0" ry="6.2" fill="#6f52d4"/>
<ellipse cx="1241.6" cy="104.8" rx="6.0" ry="6.2" fill="#ff0056"/>
<ellipse cx="534.0" cy="117.5" rx="6.0" ry="6.2" fill="#0086fa"/>
<ellipse cx="569.4" cy="108.3" rx="6.0" ry="6.2" fill="#6459da"/>
<ellipse cx="1258.1" cy="98.1" rx="6.0" ry="6.2" fill="#ff0051"/>
<ellipse cx="537.8" cy="114.3" rx="6.0" ry="6.2" fill="#0086fa"/>
<ellipse cx="584.3" cy="111.4" rx="6.0" ry="6.2" fill="#4066e6"/>
<ellipse cx="1249.9" cy="105.0" rx="6.0" ry="6.2" fill="#ff0058"/>
<ellipse cx="532.5" cy="98.5" rx="6.0" ry="6.2" fill="#0084f9"/>
<ellipse cx="533.6" cy="112.8" rx="6.0" ry="6.2" fill="#0084f9"/>
<ellipse cx="604.2" cy="106.7" rx="6.0" ry="6.2" fill="#d10091"/>
<ellipse cx="600.8" cy="105.4" rx="6.0" ry="6.2" fill="#8047c9"/>
<ellipse cx="598.8" cy="108.0" rx="6.0" ry="6.2" fill="#9829b1"/>
<ellipse cx="596.5" cy="94.5" rx="6.0" ry="6.2" fill="#883fc2"/>
<ellipse cx="578.5" cy="90.6" rx="6.0" ry="6.2" fill="#306ae9"/>
<ellipse cx="530.0" cy="113.6" rx="6.0" ry="6.2" fill="#0082f8"/>
<ellipse cx="565.2" cy="101.2" rx="6.0" ry="6.2" fill="#6857d8"/>
<ellipse cx="570.3" cy="103.4" rx="6.0" ry="6.2" fill="#3968e7"/>
<ellipse cx="608.5" cy="103.1" rx="6.0" ry="6.2" fill="#cd0095"/>
<ellipse cx="556.9" cy="89.6" rx="6.0" ry="6.2" fill="#3968e7"/>
<ellipse cx="536.2" cy="101.9" rx="6.0" ry="6.2" fill="#0081f7"/>
<ellipse cx="567.1" cy="84.2" rx="6.0" ry="6.2" fill="#4066e6"/>
<ellipse cx="574.0" cy="107.2" rx="6.0" ry="6.2" fill="#4066e6"/>
<ellipse cx="579.2" cy="111.7" rx="6.0" ry="6.2" fill="#3968e7"/>
<ellipse cx="572.5" cy="125.8" rx="6.0" ry="6.2" fill="#6857d8"/>
<ellipse cx="533.0" cy="86.7" rx="6.0" ry="6.2" fill="#0079f3"/>
<ellipse cx="546.5" cy="88.4" rx="6.0" ry="6.2" fill="#0082f8"/>
<ellipse cx="574.5" cy="112.1" rx="6.0" ry="6.2" fill="#006fed"/>
<ellipse cx="568.0" cy="121.1" rx="6.0" ry="6.2" fill="#3968e7"/>
<ellipse cx="567.6" cy="113.7" rx="6.0" ry="6.2" fill="#6459da"/>
<ellipse cx="532.7" cy="110.4" rx="6.0" ry="6.2" fill="#0079f3"/>
<ellipse cx="557.2" cy="117.7" rx="6.0" ry="6.2" fill="#3968e7"/>
<ellipse cx="567.2" cy="89.2" rx="6.0" ry="6.2" fill="#306ae9"/>
<ellipse cx="528.4" cy="87.3" rx="6.0" ry="6.2" fill="#0085f9"/>
<ellipse cx="577.9" cy="116.4" rx="6.0" ry="6.2" fill="#4664e4"/>
<ellipse cx="527.0" cy="115.2" rx="6.0" ry="6.2" fill="#007bf4"/>
<ellipse cx="576.0" cy="108.0" rx="6.0" ry="6.2" fill="#4664e4"/>
<ellipse cx="542.0" cy="94.8" rx="6.0" ry="6.2" fill="#0084f9"/>
<ellipse cx="569.4" cy="84.1" rx="6.0" ry="6.2" fill="#4664e4"/>
<ellipse cx="556.8" cy="116.4" rx="6.0" ry="6.2" fill="#6459da"/>
<ellipse cx="618.9" cy="102.6" rx="6.0" ry="6.2" fill="#d40090"/>
<ellipse cx="549.1" cy="100.4" rx="6.0" ry="6.2" fill="#4066e6"/>
<ellipse cx="1262.1" cy="99.9" rx="6.0" ry="6.2" fill="#ff0056"/>
<ellipse cx="540.0" cy="109.5" rx="6.0" ry="6.2" fill="#0085f9"/>
<ellipse cx="535.4" cy="88.5" rx="6.0" ry="6.2" fill="#0079f3"/>
<ellipse cx="540.8" cy="111.4" rx="6.0" ry="6.2" fill="#0085f9"/>
<ellipse cx="562.6" cy="125.0" rx="6.0" ry="6.2" fill="#6459da"/>
<ellipse cx="593.9" cy="104.2" rx="6.0" ry="6.2" fill="#8542c5"/>
<ellipse cx="587.8" cy="99.7" rx="6.0" ry="6.2" fill="#883fc2"/>
<ellipse cx="1253.1" cy="104.7" rx="6.0" ry="6.2" fill="#ff0056"/>
<ellipse cx="578.5" cy="88.3" rx="6.0" ry="6.2" fill="#6f52d4"/>
<ellipse cx="580.2" cy="109.0" rx="6.0" ry="6.2" fill="#4066e6"/>
<ellipse cx="549.3" cy="107.9" rx="6.0" ry="6.2" fill="#3968e7"/>
<ellipse cx="1260.5" cy="98.0" rx="6.0" ry="6.2" fill="#ff0053"/>
<ellipse cx="571.7" cy="90.5" rx="6.0" ry="6.2" fill="#3968e7"/>
<ellipse cx="606.2" cy="104.1" rx="6.0" ry="6.2" fill="#cf0093"/>
<ellipse cx="591.5" cy="112.2" rx="6.0" ry="6.2" fill="#8a3cc0"/>
<ellipse cx="579.7" cy="94.8" rx="6.0" ry="6.2" fill="#3968e7"/>
<ellipse cx="561.2" cy="107.5" rx="6.0" ry="6.2" fill="#4066e6"/>
<ellipse cx="528.1" cy="107.1" rx="6.0" ry="6.2" fill="#0082f8"/>
<ellipse cx="538.8" cy="90.3" rx="6.0" ry="6.2" fill="#0084f9"/>
<ellipse cx="560.0" cy="109.9" rx="6.0" ry="6.2" fill="#306ae9"/>
<ellipse cx="526.9" cy="94.3" rx="6.0" ry="6.2" fill="#0074f0"/>
<ellipse cx="574.4" cy="109.7" rx="6.0" ry="6.2" fill="#4066e6"/>
<ellipse cx="1263.0" cy="107.0" rx="6.0" ry="6.2" fill="#ff005a"/>
<ellipse cx="531.2" cy="100.4" rx="6.0" ry="6.2" fill="#007ff7"/>
<ellipse cx="584.2" cy="96.0" rx="6.0" ry="6.2" fill="#6c54d6"/>
<ellipse cx="574.9" cy="122.0" rx="6.0" ry="6.2" fill="#6f52d4"/>
<ellipse cx="537.3" cy="99.8" rx="6.0" ry="6.2" fill="#0079f3"/>
<ellipse cx="562.8" cy="119.7" rx="6.0" ry="6.2" fill="#306ae9"/>
<ellipse cx="557.9" cy="96.6" rx="6.0" ry="6.2" fill="#306ae9"/>
<ellipse cx="575.1" cy="123.6" rx="6.0" ry="6.2" fill="#6857d8"/>
<ellipse cx="576.0" cy="112.9" rx="6.0" ry="6.2" fill="#3968e7"/>
<ellipse cx="552.0" cy="110.5" rx="6.0" ry="6.2" fill="#3968e7"/>
<ellipse cx="588.7" cy="97.5" rx="6.0" ry="6.2" fill="#7d49cc"/>
<ellipse cx="576.2" cy="97.5" rx="6.0" ry="6.2" fill="#3968e7"/>
<ellipse cx="541.9" cy="109.0" rx="6.0" ry="6.2" fill="#0082f8"/>
<ellipse cx="1245.2" cy="104.0" rx="6.0" ry="6.2" fill="#ff0053"/>
<ellipse cx="558.6" cy="101.5" rx="6.0" ry="6.2" fill="#4066e6"/>
<ellipse cx="563.4" cy="91.3" rx="6.0" ry="6.2" fill="#4066e6"/>
<ellipse cx="598.3" cy="108.4" rx="6.0" ry="6.2" fill="#8a3cc0"/>
<ellipse cx="573.9" cy="87.5" rx="6.0" ry="6.2" fill="#3968e7"/>
<ellipse cx="573.6" cy="82.5" rx="6.0" ry="6.2" fill="#3968e7"/>
<ellipse cx="606.6" cy="99.7" rx="6.0" ry="6.2" fill="#cf0093"/>
<ellipse cx="556.3" cy="104.7" rx="6.0" ry="6.2" fill="#3968e7"/>
<ellipse cx="1261.6" cy="109.3" rx="6.0" ry="6.2" fill="#ff0058"/>
<ellipse cx="572.0" cy="81.5" rx="6.0" ry="6.2" fill="#4066e6"/>
<ellipse cx="531.9" cy="82.3" rx="6.0" ry="6.2" fill="#0086fa"/>
<ellipse cx="563.5" cy="79.2" rx="6.0" ry="6.2" fill="#794cce"/>
<ellipse cx="577.8" cy="121.1" rx="6.0" ry="6.2" fill="#6f52d4"/>
<ellipse cx="544.6" cy="85.5" rx="6.0" ry="6.2" fill="#0085f9"/>
<ellipse cx="566.1" cy="103.0" rx="6.0" ry="6.2" fill="#6c54d6"/>
<ellipse cx="557.5" cy="108.3" rx="6.0" ry="6.2" fill="#6459da"/>
<ellipse cx="558.9" cy="87.2" rx="6.0" ry="6.2" fill="#4664e4"/>
<ellipse cx="560.0" cy="116.9" rx="6.0" ry="6.2" fill="#6857d8"/>
<ellipse cx="1257.5" cy="105.2" rx="6.0" ry="6.2" fill="#ff0058"/>
<ellipse cx="581.2" cy="112.4" rx="6.0" ry="6.2" fill="#4066e6"/>
<ellipse cx="562.8" cy="110.5" rx="6.0" ry="6.2" fill="#4066e6"/>
<ellipse cx="579.3" cy="120.9" rx="6.0" ry="6.2" fill="#7350d2"/>
<ellipse cx="600.3" cy="98.7" rx="6.0" ry="6.2" fill="#7d49cc"/>
<ellipse cx="556.8" cy="94.3" rx="6.0" ry="6.2" fill="#4664e4"/>
<ellipse cx="529.6" cy="106.4" rx="6.0" ry="6.2" fill="#0082f8"/>
<ellipse cx="535.0" cy="102.7" rx="6.0" ry="6.2" fill="#0082f8"/>
<ellipse cx="1256.7" cy="107.6" rx="6.0" ry="6.2" fill="#ff0053"/>
<ellipse cx="568.8" cy="118.6" rx="6.0" ry="6.2" fill="#306ae9"/>
<ellipse cx="556.2" cy="114.1" rx="6.0" ry="6.2" fill="#3968e7"/>
<ellipse cx="568.1" cy="74.5" rx="6.0" ry="6.2" fill="#6f52d4"/>
<ellipse cx="571.6" cy="100.6" rx="6.0" ry="6.2" fill="#3968e7"/>
<ellipse cx="549.5" cy="115.1" rx="6.0" ry="6.2" fill="#6f52d4"/>
<ellipse cx="1251.3" cy="99.5" rx="6.0" ry="6.2" fill="#ff0051"/>
<ellipse cx="549.8" cy="93.0" rx="6.0" ry="6.2" fill="#4066e6"/>
<ellipse cx="532.9" cy="104.0" rx="6.0" ry="6.2" fill="#0079f3"/>
<ellipse cx="541.0" cy="120.9" rx="6.0" ry="6.2" fill="#0084f9"/>
<ellipse cx="531.3" cy="84.7" rx="6.0" ry="6.2" fill="#0085f9"/>
<ellipse cx="601.8" cy="107.6" rx="6.0" ry="6.2" fill="#883fc2"/>
<ellipse cx="543.5" cy="99.8" rx="6.0" ry="6.2" fill="#0084f9"/>
<ellipse cx="601.5" cy="103.1" rx="6.0" ry="6.2" fill="#9829b1"/>
<ellipse cx="566.3" cy="119.5" rx="6.0" ry="6.2" fill="#4066e6"/>
<ellipse cx="564.0" cy="113.0" rx="6.0" ry="6.2" fill="#4664e4"/>
<ellipse cx="571.1" cy="107.8" rx="6.0" ry="6.2" fill="#3968e7"/>
<ellipse cx="552.1" cy="93.8" rx="6.0" ry="6.2" fill="#6f52d4"/>
<ellipse cx="561.4" cy="98.2" rx="6.0" ry="6.2" fill="#306ae9"/>
<ellipse cx="531.1" cy="95.6" rx="6.0" ry="6.2" fill="#0076f1"/>
<ellipse cx="580.7" cy="87.6" rx="6.0" ry="6.2" fill="#6f52d4"/>
<ellipse cx="1263.6" cy="100.4" rx="6.0" ry="6.2" fill="#ff0056"/>
<ellipse cx="573.5" cy="94.9" rx="6.0" ry="6.2" fill="#3968e7"/>
<ellipse cx="531.6" cy="123.3" rx="6.0" ry="6.2" fill="#0079f3"/>
<ellipse cx="558.3" cy="111.0" rx="6.0" ry="6.2" fill="#006fed"/>
<ellipse cx="559.1" cy="99.1" rx="6.0" ry="6.2" fill="#4664e4"/>
<ellipse cx="1239.8" cy="104.4" rx="6.0" ry="6.2" fill="#ff0051"/>
<ellipse cx="528.3" cy="108.8" rx="6.0" ry="6.2" fill="#007bf4"/>
<ellipse cx="564.3" cy="93.7" rx="6.0" ry="6.2" fill="#4066e6"/>
<ellipse cx="570.2" cy="122.8" rx="6.0" ry="6.2" fill="#4664e4"/>
<ellipse cx="611.8" cy="105.3" rx="6.0" ry="6.2" fill="#cf0093"/>
<ellipse cx="572.0" cy="107.0" rx="6.0" ry="6.2" fill="#4066e6"/>
<ellipse cx="564.7" cy="125.6" rx="6.0" ry="6.2" fill="#4066e6"/>
<ellipse cx="576.2" cy="95.8" rx="6.0" ry="6.2" fill="#3968e7"/>
<ellipse cx="582.3" cy="114.7" rx="6.0" ry="6.2" fill="#6857d8"/>
<ellipse cx="539.0" cy="121.5" rx="6.0" ry="6.2" fill="#0074f0"/>
<ellipse cx="542.3" cy="108.9" rx="6.0" ry="6.2" fill="#007ff7"/>
<ellipse cx="548.6" cy="96.3" rx="6.0" ry="6.2" fill="#0086fa"/>
<ellipse cx="566.4" cy="110.1" rx="6.0" ry="6.2" fill="#306ae9"/>
<ellipse cx="577.7" cy="103.1" rx="6.0" ry="6.2" fill="#4664e4"/>
<ellipse cx="529.5" cy="116.0" rx="6.0" ry="6.2" fill="#0084f9"/>
<ellipse cx="553.6" cy="115.8" rx="6.0" ry="6.2" fill="#4066e6"/>
<ellipse cx="572.0" cy="88.2" rx="6.0" ry="6.2" fill="#306ae9"/>
<ellipse cx="572.5" cy="116.4" rx="6.0" ry="6.2" fill="#6f52d4"/>
<ellipse cx="1250.1" cy="102.2" rx="6.0" ry="6.2" fill="#ff0058"/>
<ellipse cx="565.3" cy="79.3" rx="6.0" ry="6.2" fill="#764ed0"/>
<ellipse cx="545.6" cy="95.8" rx="6.0" ry="6.2" fill="#007ff7"/>
<ellipse cx="581.1" cy="93.9" rx="6.0" ry="6.2" fill="#4066e6"/>
<ellipse cx="1259.7" cy="105.1" rx="6.0" ry="6.2" fill="#ff0056"/>
<ellipse cx="567.6" cy="111.3" rx="6.0" ry="6.2" fill="#6f52d4"/>
<ellipse cx="1248.7" cy="100.4" rx="6.0" ry="6.2" fill="#ff0058"/>
<ellipse cx="562.0" cy="86.4" rx="6.0" ry="6.2" fill="#4664e4"/>
<ellipse cx="550.8" cy="95.5" rx="6.0" ry="6.2" fill="#3968e7"/>
<ellipse cx="560.7" cy="93.5" rx="6.0" ry="6.2" fill="#4066e6"/>
<ellipse cx="577.4" cy="110.5" rx="6.0" ry="6.2" fill="#6f52d4"/>
<ellipse cx="598.2" cy="101.0" rx="6.0" ry="6.2" fill="#6459da"/>
<ellipse cx="556.8" cy="93.0" rx="6.0" ry="6.2" fill="#4664e4"/>
<ellipse cx="571.7" cy="122.1" rx="6.0" ry="6.2" fill="#6857d8"/>
<ellipse cx="554.5" cy="108.4" rx="6.0" ry="6.2" fill="#3968e7"/>
<ellipse cx="525.9" cy="101.3" rx="6.0" ry="6.2" fill="#0082f8"/>
<ellipse cx="571.9" cy="79.1" rx="6.0" ry="6.2" fill="#764ed0"/>
<ellipse cx="544.1" cy="106.9" rx="6.0" ry="6.2" fill="#0081f7"/>
<ellipse cx="594.6" cy="107.8" rx="6.0" ry="6.2" fill="#7d49cc"/>
<ellipse cx="590.7" cy="100.1" rx="6.0" ry="6.2" fill="#605bdc"/>
<ellipse cx="562.8" cy="84.0" rx="6.0" ry="6.2" fill="#3968e7"/>
<ellipse cx="528.2" cy="80.2" rx="6.0" ry="6.2" fill="#0081f7"/>
<ellipse cx="548.0" cy="95.8" rx="6.0" ry="6.2" fill="#0074f0"/>
<ellipse cx="535.7" cy="95.6" rx="6.0" ry="6.2" fill="#007ff7"/>
<ellipse cx="535.8" cy="104.4" rx="6.0" ry="6.2" fill="#0077f2"/>
<ellipse cx="576.1" cy="102.3" rx="6.0" ry="6.2" fill="#6459da"/>
<ellipse cx="537.3" cy="106.8" rx="6.0" ry="6.2" fill="#0081f7"/>
<ellipse cx="531.2" cy="116.0" rx="6.0" ry="6.2" fill="#0081f7"/>
<ellipse cx="570.9" cy="91.1" rx="6.0" ry="6.2" fill="#3968e7"/>
<ellipse cx="571.5" cy="83.9" rx="6.0" ry="6.2" fill="#3968e7"/>
<ellipse cx="539.1" cy="116.7" rx="6.0" ry="6.2" fill="#0084f9"/>
<ellipse cx="559.9" cy="92.0" rx="6.0" ry="6.2" fill="#7350d2"/>
<ellipse cx="1261.0" cy="104.2" rx="6.0" ry="6.2" fill="#ff005a"/>
<ellipse cx="532.9" cy="111.2" rx="6.0" ry="6.2" fill="#0077f2"/>
<ellipse cx="1257.3" cy="98.7" rx="6.0" ry="6.2" fill="#ff0056"/>
<ellipse cx="560.9" cy="100.5" rx="6.0" ry="6.2" fill="#306ae9"/>
<ellipse cx="576.6" cy="93.4" rx="6.0" ry="6.2" fill="#3968e7"/>
<ellipse cx="561.2" cy="93.5" rx="6.0" ry="6.2" fill="#3968e7"/>
<ellipse cx="1240.5" cy="105.1" rx="6.0" ry="6.2" fill="#ff0056"/>
<ellipse cx="580.6" cy="89.2" rx="6.0" ry="6.2" fill="#3968e7"/>
<ellipse cx="581.5" cy="96.2" rx="6.0" ry="6.2" fill="#6c54d6"/>
<ellipse cx="569.2" cy="86.5" rx="6.0" ry="6.2" fill="#6c54d6"/>
<ellipse cx="545.1" cy="113.0" rx="6.0" ry="6.2" fill="#0076f1"/>
<ellipse cx="543.0" cy="118.6" rx="6.0" ry="6.2" fill="#007bf4"/>
<ellipse cx="536.7" cy="87.2" rx="6.0" ry="6.2" fill="#0085f9"/>
<ellipse cx="566.9" cy="126.6" rx="6.0" ry="6.2" fill="#6857d8"/>
<ellipse cx="565.2" cy="120.7" rx="6.0" ry="6.2" fill="#6c54d6"/>
<ellipse cx="551.8" cy="103.3" rx="6.0" ry="6.2" fill="#0071ee"/>
<ellipse cx="565.7" cy="81.9" rx="6.0" ry="6.2" fill="#3968e7"/>
<ellipse cx="534.4" cy="84.3" rx="6.0" ry="6.2" fill="#0077f2"/>
<ellipse cx="535.6" cy="109.8" rx="6.0" ry="6.2" fill="#0077f2"/>
<ellipse cx="541.3" cy="87.6" rx="6.0" ry="6.2" fill="#007ef6"/>
<ellipse cx="577.5" cy="95.3" rx="6.0" ry="6.2" fill="#6857d8"/>
<ellipse cx="547.4" cy="98.2" rx="6.0" ry="6.2" fill="#0077f2"/>
<ellipse cx="555.0" cy="111.7" rx="6.0" ry="6.2" fill="#7350d2"/>
<ellipse cx="528.2" cy="121.1" rx="6.0" ry="6.2" fill="#007ef6"/>
<ellipse cx="578.0" cy="117.8" rx="6.0" ry="6.2" fill="#3968e7"/>
<ellipse cx="597.0" cy="96.1" rx="6.0" ry="6.2" fill="#883fc2"/>
<ellipse cx="558.3" cy="103.8" rx="6.0" ry="6.2" fill="#3968e7"/>
<ellipse cx="564.0" cy="91.5" rx="6.0" ry="6.2" fill="#6857d8"/>
<ellipse cx="570.2" cy="96.2" rx="6.0" ry="6.2" fill="#3968e7"/>
<ellipse cx="589.0" cy="105.3" rx="6.0" ry="6.2" fill="#9a25ae"/>
<ellipse cx="551.2" cy="108.1" rx="6.0" ry="6.2" fill="#4066e6"/>
<ellipse cx="569.7" cy="105.9" rx="6.0" ry="6.2" fill="#3968e7"/>
<ellipse cx="586.4" cy="113.5" rx="6.0" ry="6.2" fill="#306ae9"/>
<ellipse cx="532.6" cy="106.4" rx="6.0" ry="6.2" fill="#0079f3"/>
<ellipse cx="579.4" cy="106.6" rx="6.0" ry="6.2" fill="#6f52d4"/>
<ellipse cx="571.9" cy="111.7" rx="6.0" ry="6.2" fill="#6459da"/>
<ellipse cx="587.8" cy="113.3" rx="6.0" ry="6.2" fill="#8a3cc0"/>
<ellipse cx="565.1" cy="108.5" rx="6.0" ry="6.2" fill="#306ae9"/>
<ellipse cx="571.8" cy="102.3" rx="6.0" ry="6.2" fill="#4066e6"/>
<ellipse cx="551.6" cy="112.9" rx="6.0" ry="6.2" fill="#306ae9"/>
<ellipse cx="609.3" cy="101.7" rx="6.0" ry="6.2" fill="#cf0093"/>
<ellipse cx="530.2" cy="83.7" rx="6.0" ry="6.2" fill="#007bf4"/>
<ellipse cx="560.4" cy="102.9" rx="6.0" ry="6.2" fill="#4664e4"/>
<ellipse cx="530.7" cy="117.2" rx="6.0" ry="6.2" fill="#0077f2"/>
<ellipse cx="572.4" cy="121.1" rx="6.0" ry="6.2" fill="#306ae9"/>
<ellipse cx="544.4" cy="90.3" rx="6.0" ry="6.2" fill="#0086fa"/>
<ellipse cx="529.8" cy="107.6" rx="6.0" ry="6.2" fill="#0074f0"/>
<ellipse cx="573.0" cy="95.2" rx="6.0" ry="6.2" fill="#3968e7"/>
<ellipse cx="1256.2" cy="101.3" rx="6.0" ry="6.2" fill="#ff0056"/>
<ellipse cx="1237.7" cy="102.1" rx="6.0" ry="6.2" fill="#ff0053"/>
<ellipse cx="1251.4" cy="102.0" rx="6.0" ry="6.2" fill="#ff0051"/>
<ellipse cx="568.0" cy="94.1" rx="6.0" ry="6.2" fill="#6c54d6"/>
<ellipse cx="612.5" cy="102.4" rx="6.0" ry="6.2" fill="#d40090"/>
<ellipse cx="544.5" cy="116.5" rx="6.0" ry="6.2" fill="#0077f2"/>
<ellipse cx="1252.2" cy="107.3" rx="6.0" ry="6.2" fill="#ff0053"/>
<ellipse cx="617.9" cy="102.2" rx="6.0" ry="6.2" fill="#cd0095"/>
<ellipse cx="533.8" cy="108.0" rx="6.0" ry="6.2" fill="#0076f1"/>
<ellipse cx="535.6" cy="107.5" rx="6.0" ry="6.2" fill="#0085f9"/>
<ellipse cx="583.7" cy="98.5" rx="6.0" ry="6.2" fill="#006fed"/>
<ellipse cx="534.7" cy="105.1" rx="6.0" ry="6.2" fill="#0081f7"/>
<ellipse cx="589.4" cy="113.1" rx="6.0" ry="6.2" fill="#8542c5"/>
<ellipse cx="614.0" cy="105.2" rx="6.0" ry="6.2" fill="#d10091"/>
<ellipse cx="573.2" cy="99.9" rx="6.0" ry="6.2" fill="#6857d8"/>
<ellipse cx="539.8" cy="107.1" rx="6.0" ry="6.2" fill="#0081f7"/>
<ellipse cx="550.5" cy="107.8" rx="6.0" ry="6.2" fill="#3968e7"/>
<ellipse cx="598.1" cy="106.0" rx="6.0" ry="6.2" fill="#8047c9"/>
<ellipse cx="526.2" cy="92.0" rx="6.0" ry="6.2" fill="#0076f1"/>
<ellipse cx="563.4" cy="81.6" rx="6.0" ry="6.2" fill="#4066e6"/>
<ellipse cx="538.6" cy="90.2" rx="6.0" ry="6.2" fill="#0081f7"/>
<ellipse cx="535.8" cy="90.9" rx="6.0" ry="6.2" fill="#0084f9"/>
<ellipse cx="570.3" cy="124.5" rx="6.0" ry="6.2" fill="#306ae9"/>
<ellipse cx="601.7" cy="100.9" rx="6.0" ry="6.2" fill="#883fc2"/>
<ellipse cx="582.9" cy="105.7" rx="6.0" ry="6.2" fill="#4066e6"/>
<ellipse cx="531.2" cy="96.8" rx="6.0" ry="6.2" fill="#0079f3"/>
<ellipse cx="589.6" cy="105.2" rx="6.0" ry="6.2" fill="#8047c9"/>
<ellipse cx="538.2" cy="111.9" rx="6.0" ry="6.2" fill="#0081f7"/>
<ellipse cx="577.6" cy="107.0" rx="6.0" ry="6.2" fill="#7350d2"/>
<ellipse cx="1254.1" cy="102.2" rx="6.0" ry="6.2" fill="#ff0053"/>
<ellipse cx="600.5" cy="97.3" rx="6.0" ry="6.2" fill="#6857d8"/>
<ellipse cx="581.0" cy="85.2" rx="6.0" ry="6.2" fill="#4664e4"/>
<ellipse cx="1252.3" cy="99.5" rx="6.0" ry="6.2" fill="#ff0058"/>
<ellipse cx="561.1" cy="112.6" rx="6.0" ry="6.2" fill="#6c54d6"/>
<ellipse cx="607.8" cy="100.7" rx="6.0" ry="6.2" fill="#cd0095"/>
<ellipse cx="580.2" cy="101.9" rx="6.0" ry="6.2" fill="#7350d2"/>
<ellipse cx="578.7" cy="104.7" rx="6.0" ry="6.2" fill="#4066e6"/>
<ellipse cx="547.2" cy="107.8" rx="6.0" ry="6.2" fill="#0076f1"/>
<ellipse cx="536.7" cy="94.6" rx="6.0" ry="6.2" fill="#0076f1"/>
<ellipse cx="541.0" cy="99.5" rx="6.0" ry="6.2" fill="#007cf5"/>
<ellipse cx="548.6" cy="105.6" rx="6.0" ry="6.2" fill="#0079f3"/>
<ellipse cx="526.6" cy="93.1" rx="6.0" ry="6.2" fill="#0081f7"/>
<ellipse cx="536.0" cy="114.6" rx="6.0" ry="6.2" fill="#007cf5"/>
<ellipse cx="555.1" cy="93.7" rx="6.0" ry="6.2" fill="#4066e6"/>
<ellipse cx="543.0" cy="113.7" rx="6.0" ry="6.2" fill="#0082f8"/>
<ellipse cx="1259.8" cy="108.2" rx="6.0" ry="6.2" fill="#ff0058"/>
<ellipse cx="580.6" cy="110.1" rx="6.0" ry="6.2" fill="#4066e6"/>
<ellipse cx="577.9" cy="90.9" rx="6.0" ry="6.2" fill="#3968e7"/>
<ellipse cx="571.2" cy="98.3" rx="6.0" ry="6.2" fill="#4664e4"/>
<ellipse cx="591.3" cy="97.5" rx="6.0" ry="6.2" fill="#7d49cc"/>
<ellipse cx="574.2" cy="85.0" rx="6.0" ry="6.2" fill="#306ae9"/>
<ellipse cx="565.5" cy="106.1" rx="6.0" ry="6.2" fill="#6459da"/>
<ellipse cx="575.5" cy="114.1" rx="6.0" ry="6.2" fill="#4066e6"/>
<ellipse cx="570.0" cy="129.3" rx="6.0" ry="6.2" fill="#4664e4"/>
<ellipse cx="535.7" cy="93.3" rx="6.0" ry="6.2" fill="#0084f9"/>
<ellipse cx="567.0" cy="84.3" rx="6.0" ry="6.2" fill="#4664e4"/>
<ellipse cx="578.0" cy="85.9" rx="6.0" ry="6.2" fill="#006fed"/>
<ellipse cx="530.0" cy="93.2" rx="6.0" ry="6.2" fill="#0079f3"/>
<ellipse cx="603.6" cy="99.7" rx="6.0" ry="6.2" fill="#8244c7"/>
<ellipse cx="528.0" cy="104.7" rx="6.0" ry="6.2" fill="#007cf5"/>
<ellipse cx="559.8" cy="123.8" rx="6.0" ry="6.2" fill="#3968e7"/>
<ellipse cx="1250.9" cy="106.0" rx="6.0" ry="6.2" fill="#ff0053"/>
<ellipse cx="543.1" cy="87.9" rx="6.0" ry="6.2" fill="#0084f9"/>
<ellipse cx="597.9" cy="103.5" rx="6.0" ry="6.2" fill="#8a3cc0"/>
<ellipse cx="536.0" cy="109.3" rx="6.0" ry="6.2" fill="#0084f9"/>
<ellipse cx="535.7" cy="116.9" rx="6.0" ry="6.2" fill="#0081f7"/>
<ellipse cx="529.0" cy="123.1" rx="6.0" ry="6.2" fill="#0085f9"/>
<ellipse cx="575.8" cy="95.1" rx="6.0" ry="6.2" fill="#4066e6"/>
<ellipse cx="538.4" cy="95.0" rx="6.0" ry="6.2" fill="#0085f9"/>
<ellipse cx="605.5" cy="101.9" rx="6.0" ry="6.2" fill="#cf0093"/>
<ellipse cx="527.2" cy="116.4" rx="6.0" ry="6.2" fill="#007ff7"/>
<ellipse cx="559.1" cy="106.2" rx="6.0" ry="6.2" fill="#3968e7"/>
<ellipse cx="1263.4" cy="95.8" rx="6.0" ry="6.2" fill="#ff0056"/>
<ellipse cx="563.4" cy="108.1" rx="6.0" ry="6.2" fill="#6c54d6"/>
<ellipse cx="605.6" cy="99.7" rx="6.0" ry="6.2" fill="#d10091"/>
<ellipse cx="533.0" cy="119.9" rx="6.0" ry="6.2" fill="#007ff7"/>
<ellipse cx="535.9" cy="116.6" rx="6.0" ry="6.2" fill="#0077f2"/>
<ellipse cx="588.5" cy="107.9" rx="6.0" ry="6.2" fill="#8a3cc0"/>
<ellipse cx="1251.2" cy="104.5" rx="6.0" ry="6.2" fill="#ff0058"/>
<ellipse cx="526.9" cy="86.1" rx="6.0" ry="6.2" fill="#0077f2"/>
<ellipse cx="576.2" cy="111.8" rx="6.0" ry="6.2" fill="#7350d2"/>
<ellipse cx="530.2" cy="98.0" rx="6.0" ry="6.2" fill="#0076f1"/>
<ellipse cx="562.7" cy="84.1" rx="6.0" ry="6.2" fill="#306ae9"/>
<ellipse cx="562.7" cy="114.9" rx="6.0" ry="6.2" fill="#3968e7"/>
<ellipse cx="555.1" cy="110.9" rx="6.0" ry="6.2" fill="#4066e6"/>
<ellipse cx="570.8" cy="88.7" rx="6.0" ry="6.2" fill="#4066e6"/>
<ellipse cx="597.8" cy="93.6" rx="6.0" ry="6.2" fill="#8244c7"/>
<ellipse cx="557.7" cy="113.0" rx="6.0" ry="6.2" fill="#6459da"/>
<ellipse cx="598.6" cy="100.0" rx="6.0" ry="6.2" fill="#8047c9"/>
<ellipse cx="575.4" cy="104.6" rx="6.0" ry="6.2" fill="#7350d2"/>
<ellipse cx="546.2" cy="105.4" rx="6.0" ry="6.2" fill="#0084f9"/>
<ellipse cx="566.7" cy="88.9" rx="6.0" ry="6.2" fill="#6c54d6"/>
<ellipse cx="582.5" cy="117.0" rx="6.0" ry="6.2" fill="#4066e6"/>
<ellipse cx="605.0" cy="106.4" rx="6.0" ry="6.2" fill="#d10091"/>
<ellipse cx="570.6" cy="93.5" rx="6.0" ry="6.2" fill="#4066e6"/>
<ellipse cx="540.8" cy="92.4" rx="6.0" ry="6.2" fill="#0082f8"/>
<ellipse cx="563.6" cy="98.5" rx="6.0" ry="6.2" fill="#306ae9"/>
<ellipse cx="1251.6" cy="103.8" rx="6.0" ry="6.2" fill="#ff0053"/>
<ellipse cx="616.7" cy="104.4" rx="6.0" ry="6.2" fill="#cf0093"/>
<ellipse cx="528.8" cy="118.3" rx="6.0" ry="6.2" fill="#0084f9"/>
<ellipse cx="560.4" cy="114.5" rx="6.0" ry="6.2" fill="#3968e7"/>
<ellipse cx="552.7" cy="98.6" rx="6.0" ry="6.2" fill="#7350d2"/>
<ellipse cx="544.8" cy="108.1" rx="6.0" ry="6.2" fill="#0081f7"/>
<ellipse cx="560.5" cy="91.2" rx="6.0" ry="6.2" fill="#6459da"/>
<ellipse cx="562.5" cy="100.7" rx="6.0" ry="6.2" fill="#306ae9"/>
<ellipse cx="560.4" cy="121.5" rx="6.0" ry="6.2" fill="#4066e6"/>
<ellipse cx="570.4" cy="126.9" rx="6.0" ry="6.2" fill="#6c54d6"/>
<ellipse cx="1258.4" cy="102.4" rx="6.0" ry="6.2" fill="#ff0053"/>
<ellipse cx="575.6" cy="116.5" rx="6.0" ry="6.2" fill="#4664e4"/>
<ellipse cx="562.1" cy="124.4" rx="6.0" ry="6.2" fill="#306ae9"/>
<ellipse cx="562.3" cy="98.3" rx="6.0" ry="6.2" fill="#0071ee"/>
<ellipse cx="569.2" cy="79.2" rx="6.0" ry="6.2" fill="#6857d8"/>
<ellipse cx="567.2" cy="114.8" rx="6.0" ry="6.2" fill="#6f52d4"/>
<ellipse cx="536.7" cy="99.5" rx="6.0" ry="6.2" fill="#007ef6"/>
<ellipse cx="570.1" cy="105.4" rx="6.0" ry="6.2" fill="#3968e7"/>
<ellipse cx="554.0" cy="115.5" rx="6.0" ry="6.2" fill="#3968e7"/>
<ellipse cx="536.0" cy="114.2" rx="6.0" ry="6.2" fill="#0081f7"/>
<ellipse cx="574.9" cy="121.3" rx="6.0" ry="6.2" fill="#6857d8"/>
<ellipse cx="577.0" cy="83.6" rx="6.0" ry="6.2" fill="#3968e7"/>
<ellipse cx="572.0" cy="119.8" rx="6.0" ry="6.2" fill="#7350d2"/>
<ellipse cx="593.4" cy="108.9" rx="6.0" ry="6.2" fill="#9829b1"/>
<ellipse cx="583.2" cy="96.4" rx="6.0" ry="6.2" fill="#6857d8"/>
<ellipse cx="528.4" cy="114.1" rx="6.0" ry="6.2" fill="#0079f3"/>
<ellipse cx="557.6" cy="106.0" rx="6.0" ry="6.2" fill="#6857d8"/>
<ellipse cx="544.9" cy="93.3" rx="6.0" ry="6.2" fill="#0085f9"/>
<ellipse cx="543.9" cy="109.3" rx="6.0" ry="6.2" fill="#0076f1"/>
<ellipse cx="1264.1" cy="97.9" rx="6.0" ry="6.2" fill="#ff0053"/>
<ellipse cx="550.7" cy="110.2" rx="6.0" ry="6.2" fill="#006fed"/>
<ellipse cx="573.4" cy="92.9" rx="6.0" ry="6.2" fill="#4664e4"/>
<ellipse cx="544.7" cy="97.4" rx="6.0" ry="6.2" fill="#0077f2"/>
<ellipse cx="1235.8" cy="102.7" rx="6.0" ry="6.2" fill="#ff0051"/>
<ellipse cx="577.9" cy="100.0" rx="6.0" ry="6.2" fill="#6c54d6"/>
<ellipse cx="570.5" cy="117.4" rx="6.0" ry="6.2" fill="#306ae9"/>
<ellipse cx="526.7" cy="112.9" rx="6.0" ry="6.2" fill="#0085f9"/>
<ellipse cx="1253.6" cy="102.1" rx="6.0" ry="6.2" fill="#ff0053"/>
<ellipse cx="583.3" cy="94.1" rx="6.0" ry="6.2" fill="#4664e4"/>
<ellipse cx="1259.9" cy="103.1" rx="6.0" ry="6.2" fill="#ff0051"/>
<ellipse cx="541.8" cy="116.1" rx="6.0" ry="6.2" fill="#007ff7"/>
<ellipse cx="598.7" cy="105.3" rx="6.0" ry="6.2" fill="#7d49cc"/>
<ellipse cx="533.1" cy="105.6" rx="6.0" ry="6.2" fill="#0079f3"/>
<ellipse cx="576.1" cy="105.6" rx="6.0" ry="6.2" fill="#6c54d6"/>
<ellipse cx="564.8" cy="86.6" rx="6.0" ry="6.2" fill="#0071ee"/>
<ellipse cx="546.3" cy="110.5" rx="6.0" ry="6.2" fill="#007ff7"/>
<ellipse cx="580.9" cy="116.1" rx="6.0" ry="6.2" fill="#3968e7"/>
<ellipse cx="525.3" cy="108.2" rx="6.0" ry="6.2" fill="#007bf4"/>
<ellipse cx="583.0" cy="115.0" rx="6.0" ry="6.2" fill="#3968e7"/>
<ellipse cx="557.0" cy="103.6" rx="6.0" ry="6.2" fill="#3968e7"/>
<ellipse cx="562.8" cy="120.2" rx="6.0" ry="6.2" fill="#6459da"/>
<ellipse cx="596.4" cy="109.0" rx="6.0" ry="6.2" fill="#8047c9"/>
<ellipse cx="568.9" cy="125.2" rx="6.0" ry="6.2" fill="#3968e7"/>
<ellipse cx="528.4" cy="111.7" rx="6.0" ry="6.2" fill="#007ff7"/>
<ellipse cx="582.4" cy="98.5" rx="6.0" ry="6.2" fill="#4066e6"/>
<ellipse cx="1261.9" cy="97.6" rx="6.0" ry="6.2" fill="#ff0056"/>
<ellipse cx="1234.0" cy="102.6" rx="6.0" ry="6.2" fill="#f7006a"/>
<ellipse cx="1243.4" cy="104.5" rx="6.0" ry="6.2" fill="#ff0058"/>
<ellipse cx="530.9" cy="81.3" rx="6.0" ry="6.2" fill="#0076f1"/>
<ellipse cx="566.9" cy="91.3" rx="6.0" ry="6.2" fill="#6c54d6"/>
<ellipse cx="573.2" cy="89.9" rx="6.0" ry="6.2" fill="#6459da"/>
<ellipse cx="535.8" cy="97.0" rx="6.0" ry="6.2" fill="#0084f9"/>
<ellipse cx="1258.7" cy="107.6" rx="6.0" ry="6.2" fill="#ff0056"/>
<ellipse cx="566.0" cy="77.2" rx="6.0" ry="6.2" fill="#6c54d6"/>
<ellipse cx="1245.6" cy="103.8" rx="6.0" ry="6.2" fill="#ff0056"/>
<ellipse cx="575.7" cy="99.9" rx="6.0" ry="6.2" fill="#7350d2"/>
<ellipse cx="590.7" cy="112.8" rx="6.0" ry="6.2" fill="#883fc2"/>
<ellipse cx="526.7" cy="118.7" rx="6.0" ry="6.2" fill="#0076f1"/>
<ellipse cx="1248.9" cy="104.1" rx="6.0" ry="6.2" fill="#ff0051"/>
<ellipse cx="540.6" cy="113.7" rx="6.0" ry="6.2" fill="#0082f8"/>
<ellipse cx="572.6" cy="85.8" rx="6.0" ry="6.2" fill="#306ae9"/>
<ellipse cx="615.1" cy="105.2" rx="6.0" ry="6.2" fill="#cf0093"/>
<ellipse cx="582.1" cy="103.1" rx="6.0" ry="6.2" fill="#6857d8"/>
<ellipse cx="543.1" cy="95.0" rx="6.0" ry="6.2" fill="#0084f9"/>
<ellipse cx="545.7" cy="103.2" rx="6.0" ry="6.2" fill="#0085f9"/>
<ellipse cx="1232.7" cy="102.5" rx="6.0" ry="6.2" fill="#f7006a"/>
<ellipse cx="581.3" cy="105.4" rx="6.0" ry="6.2" fill="#306ae9"/>
<ellipse cx="529.0" cy="101.6" rx="6.0" ry="6.2" fill="#007bf4"/>
<ellipse cx="592.6" cy="99.9" rx="6.0" ry="6.2" fill="#7d49cc"/>
<ellipse cx="547.9" cy="114.9" rx="6.0" ry="6.2" fill="#0082f8"/>
<ellipse cx="575.1" cy="118.9" rx="6.0" ry="6.2" fill="#306ae9"/>
<ellipse cx="527.1" cy="97.7" rx="6.0" ry="6.2" fill="#0079f3"/>
<ellipse cx="539.1" cy="97.5" rx="6.0" ry="6.2" fill="#0082f8"/>
<ellipse cx="594.3" cy="105.4" rx="6.0" ry="6.2" fill="#8244c7"/>
<ellipse cx="530.9" cy="124.4" rx="6.0" ry="6.2" fill="#007cf5"/>
<ellipse cx="528.9" cy="111.2" rx="6.0" ry="6.2" fill="#0076f1"/>
<ellipse cx="574.0" cy="92.4" rx="6.0" ry="6.2" fill="#306ae9"/>
<circle cx="589.3" cy="111.6" r="5.0" fill="#9d22ac"/>
<circle cx="598.6" cy="92.6" r="5.0" fill="#8542c5"/>
<circle cx="567.8" cy="73.7" r="5.0" fill="#7350d2"/>
<circle cx="612.0" cy="101.2" r="5.0" fill="#d10091"/>
<circle cx="619.5" cy="101.5" r="5.0" fill="#d10091"/>
<ellipse cx="427.0" cy="102.7" rx="6.0" ry="6.2" fill="#007ff7"/>
<ellipse cx="515.9" cy="102.5" rx="6.0" ry="6.2" fill="#007ff7"/>
<ellipse cx="643.2" cy="103.4" rx="6.0" ry="6.2" fill="#d10091"/>
<ellipse cx="689.0" cy="103.4" rx="6.0" ry="6.2" fill="#306ae9"/>
<ellipse cx="711.8" cy="103.4" rx="6.0" ry="6.2" fill="#605bdc"/>
<ellipse cx="735.0" cy="103.0" rx="6.0" ry="6.2" fill="#f10072"/>
<ellipse cx="747.2" cy="101.3" rx="6.0" ry="6.2" fill="#6c54d6"/>
<ellipse cx="751.4" cy="103.4" rx="6.0" ry="6.2" fill="#8542c5"/>
<ellipse cx="777.8" cy="103.4" rx="6.0" ry="6.2" fill="#9d22ac"/>
<ellipse cx="785.6" cy="103.4" rx="6.0" ry="6.2" fill="#c2009c"/>
<ellipse cx="1045.2" cy="102.8" rx="6.0" ry="6.2" fill="#e50080"/>
<ellipse cx="1057.0" cy="102.8" rx="6.0" ry="6.2" fill="#e50080"/>
<ellipse cx="1079.2" cy="101.7" rx="6.0" ry="6.2" fill="#ff0056"/>
<ellipse cx="1086.0" cy="103.8" rx="6.0" ry="6.2" fill="#ff0056"/>
<ellipse cx="1199.0" cy="103.4" rx="6.0" ry="6.2" fill="#e50080"/>
<ellipse cx="1204.2" cy="103.4" rx="6.0" ry="6.2" fill="#e50080"/>
<ellipse cx="1209.2" cy="103.4" rx="6.0" ry="6.2" fill="#e50080"/>
<ellipse cx="763.4" cy="182.9" rx="6.0" ry="6.2" fill="#ff005a"/>
<ellipse cx="759.4" cy="195.9" rx="6.0" ry="6.2" fill="#0076f1"/>
<ellipse cx="809.2" cy="194.4" rx="6.0" ry="6.2" fill="#8542c5"/>
<ellipse cx="788.3" cy="183.9" rx="6.0" ry="6.2" fill="#007bf4"/>
<ellipse cx="766.4" cy="195.2" rx="6.0" ry="6.2" fill="#8047c9"/>
<ellipse cx="798.7" cy="201.3" rx="6.0" ry="6.2" fill="#4664e4"/>
<ellipse cx="819.7" cy="191.4" rx="6.0" ry="6.2" fill="#8d39be"/>
<ellipse cx="794.1" cy="182.7" rx="6.0" ry="6.2" fill="#6c54d6"/>
<ellipse cx="746.4" cy="196.7" rx="6.0" ry="6.2" fill="#794cce"/>
<ellipse cx="806.3" cy="209.5" rx="6.0" ry="6.2" fill="#ff0056"/>
<ellipse cx="780.7" cy="183.0" rx="6.0" ry="6.2" fill="#0077f2"/>
<ellipse cx="784.2" cy="196.7" rx="6.0" ry="6.2" fill="#8244c7"/>
<ellipse cx="805.0" cy="211.9" rx="6.0" ry="6.2" fill="#6c54d6"/>
<ellipse cx="795.8" cy="173.9" rx="6.0" ry="6.2" fill="#6c54d6"/>
<ellipse cx="778.3" cy="192.2" rx="6.0" ry="6.2" fill="#9d22ac"/>
<ellipse cx="758.5" cy="210.3" rx="6.0" ry="6.2" fill="#9a25ae"/>
<ellipse cx="798.8" cy="175.9" rx="6.0" ry="6.2" fill="#0082f8"/>
<ellipse cx="825.7" cy="193.4" rx="6.0" ry="6.2" fill="#9233b9"/>
<ellipse cx="843.2" cy="197.5" rx="6.0" ry="6.2" fill="#007ff7"/>
<ellipse cx="838.6" cy="197.4" rx="6.0" ry="6.2" fill="#0081f7"/>
<ellipse cx="798.1" cy="213.3" rx="6.0" ry="6.2" fill="#8244c7"/>
<ellipse cx="758.9" cy="188.8" rx="6.0" ry="6.2" fill="#9d22ac"/>
<ellipse cx="824.0" cy="194.7" rx="6.0" ry="6.2" fill="#605bdc"/>
<ellipse cx="764.4" cy="171.1" rx="6.0" ry="6.2" fill="#0084f9"/>
<ellipse cx="758.3" cy="184.9" rx="6.0" ry="6.2" fill="#9430b6"/>
<ellipse cx="765.0" cy="180.8" rx="6.0" ry="6.2" fill="#4c63e3"/>
<ellipse cx="797.4" cy="218.1" rx="6.0" ry="6.2" fill="#d40090"/>
<ellipse cx="820.7" cy="192.9" rx="6.0" ry="6.2" fill="#9829b1"/>
<ellipse cx="797.1" cy="186.9" rx="6.0" ry="6.2" fill="#9233b9"/>
<ellipse cx="766.2" cy="216.8" rx="6.0" ry="6.2" fill="#8a3cc0"/>
<ellipse cx="802.2" cy="208.1" rx="6.0" ry="6.2" fill="#ff0058"/>
<ellipse cx="771.6" cy="189.1" rx="6.0" ry="6.2" fill="#007ef6"/>
<ellipse cx="790.8" cy="211.6" rx="6.0" ry="6.2" fill="#962db3"/>
<ellipse cx="805.0" cy="175.5" rx="6.0" ry="6.2" fill="#5261e1"/>
<ellipse cx="750.4" cy="200.2" rx="6.0" ry="6.2" fill="#c5009a"/>
<ellipse cx="805.4" cy="173.0" rx="6.0" ry="6.2" fill="#8a3cc0"/>
<ellipse cx="808.9" cy="196.1" rx="6.0" ry="6.2" fill="#cd0095"/>
<ellipse cx="812.7" cy="194.3" rx="6.0" ry="6.2" fill="#4c63e3"/>
<ellipse cx="799.9" cy="202.3" rx="6.0" ry="6.2" fill="#8244c7"/>
<ellipse cx="765.8" cy="192.8" rx="6.0" ry="6.2" fill="#9829b1"/>
<ellipse cx="803.9" cy="202.7" rx="6.0" ry="6.2" fill="#575fdf"/>
<ellipse cx="768.2" cy="173.1" rx="6.0" ry="6.2" fill="#e10084"/>
<ellipse cx="761.6" cy="188.2" rx="6.0" ry="6.2" fill="#794cce"/>
<ellipse cx="788.1" cy="201.5" rx="6.0" ry="6.2" fill="#8f36bb"/>
<ellipse cx="810.9" cy="187.4" rx="6.0" ry="6.2" fill="#007bf4"/>
<ellipse cx="799.3" cy="178.3" rx="6.0" ry="6.2" fill="#9a25ae"/>
<ellipse cx="762.7" cy="205.0" rx="6.0" ry="6.2" fill="#0076f1"/>
<ellipse cx="769.7" cy="209.2" rx="6.0" ry="6.2" fill="#8d39be"/>
<ellipse cx="719.6" cy="193.7" rx="6.0" ry="6.2" fill="#ff0056"/>
<ellipse cx="768.6" cy="192.3" rx="6.0" ry="6.2" fill="#8a3cc0"/>
<ellipse cx="836.1" cy="193.2" rx="6.0" ry="6.2" fill="#0081f7"/>
<ellipse cx="816.9" cy="192.0" rx="6.0" ry="6.2" fill="#8a3cc0"/>
<ellipse cx="789.5" cy="182.3" rx="6.0" ry="6.2" fill="#e30082"/>
<ellipse cx="766.6" cy="176.0" rx="6.0" ry="6.2" fill="#9a25ae"/>
<ellipse cx="773.4" cy="208.9" rx="6.0" ry="6.2" fill="#8047c9"/>
<ellipse cx="768.9" cy="197.1" rx="6.0" ry="6.2" fill="#5261e1"/>
<ellipse cx="779.4" cy="203.3" rx="6.0" ry="6.2" fill="#6459da"/>
<ellipse cx="757.5" cy="172.8" rx="6.0" ry="6.2" fill="#8542c5"/>
<ellipse cx="791.1" cy="206.7" rx="6.0" ry="6.2" fill="#605bdc"/>
<ellipse cx="799.9" cy="209.4" rx="6.0" ry="6.2" fill="#0081f7"/>
<ellipse cx="806.0" cy="179.2" rx="6.0" ry="6.2" fill="#9430b6"/>
<ellipse cx="765.1" cy="168.6" rx="6.0" ry="6.2" fill="#8d39be"/>
<ellipse cx="764.1" cy="178.4" rx="6.0" ry="6.2" fill="#9233b9"/>
<ellipse cx="803.3" cy="207.5" rx="6.0" ry="6.2" fill="#7d49cc"/>
<ellipse cx="796.1" cy="185.9" rx="6.0" ry="6.2" fill="#9430b6"/>
<ellipse cx="775.6" cy="206.8" rx="6.0" ry="6.2" fill="#ff0053"/>
<ellipse cx="796.5" cy="200.3" rx="6.0" ry="6.2" fill="#8d39be"/>
<ellipse cx="767.1" cy="197.3" rx="6.0" ry="6.2" fill="#9233b9"/>
<ellipse cx="765.3" cy="175.9" rx="6.0" ry="6.2" fill="#8542c5"/>
<ellipse cx="814.8" cy="194.3" rx="6.0" ry="6.2" fill="#8244c7"/>
<ellipse cx="794.7" cy="196.8" rx="6.0" ry="6.2" fill="#0079f3"/>
<ellipse cx="760.0" cy="171.6" rx="6.0" ry="6.2" fill="#6c54d6"/>
<ellipse cx="760.0" cy="208.1" rx="6.0" ry="6.2" fill="#9430b6"/>
<ellipse cx="757.9" cy="212.6" rx="6.0" ry="6.2" fill="#dd0088"/>
<ellipse cx="747.4" cy="192.1" rx="6.0" ry="6.2" fill="#883fc2"/>
<ellipse cx="741.0" cy="194.7" rx="6.0" ry="6.2" fill="#883fc2"/>
<ellipse cx="801.7" cy="172.0" rx="6.0" ry="6.2" fill="#dd0088"/>
<ellipse cx="756.7" cy="202.1" rx="6.0" ry="6.2" fill="#9a25ae"/>
<ellipse cx="733.2" cy="193.6" rx="6.0" ry="6.2" fill="#a31daa"/>
<ellipse cx="818.6" cy="197.2" rx="6.0" ry="6.2" fill="#6459da"/>
<ellipse cx="798.2" cy="175.0" rx="6.0" ry="6.2" fill="#8047c9"/>
<ellipse cx="760.2" cy="213.0" rx="6.0" ry="6.2" fill="#883fc2"/>
<ellipse cx="798.5" cy="173.5" rx="6.0" ry="6.2" fill="#9829b1"/>
<ellipse cx="815.7" cy="194.3" rx="6.0" ry="6.2" fill="#9430b6"/>
<ellipse cx="807.7" cy="198.3" rx="6.0" ry="6.2" fill="#9a25ae"/>
<ellipse cx="808.2" cy="203.3" rx="6.0" ry="6.2" fill="#9233b9"/>
<ellipse cx="808.3" cy="189.0" rx="6.0" ry="6.2" fill="#8542c5"/>
<ellipse cx="737.0" cy="197.6" rx="6.0" ry="6.2" fill="#aa17a7"/>
<ellipse cx="762.9" cy="212.2" rx="6.0" ry="6.2" fill="#ff0053"/>
<ellipse cx="752.0" cy="189.2" rx="6.0" ry="6.2" fill="#8047c9"/>
<ellipse cx="766.9" cy="194.9" rx="6.0" ry="6.2" fill="#883fc2"/>
<ellipse cx="740.3" cy="192.2" rx="6.0" ry="6.2" fill="#6857d8"/>
<ellipse cx="732.1" cy="193.7" rx="6.0" ry="6.2" fill="#8542c5"/>
<ellipse cx="832.4" cy="194.4" rx="6.0" ry="6.2" fill="#0081f7"/>
<ellipse cx="767.3" cy="207.2" rx="6.0" ry="6.2" fill="#9d22ac"/>
<ellipse cx="764.2" cy="204.2" rx="6.0" ry="6.2" fill="#b604a2"/>
<ellipse cx="800.8" cy="186.6" rx="6.0" ry="6.2" fill="#5261e1"/>
<ellipse cx="798.8" cy="167.8" rx="6.0" ry="6.2" fill="#9a25ae"/>
<ellipse cx="772.7" cy="186.6" rx="6.0" ry="6.2" fill="#8d39be"/>
<ellipse cx="753.0" cy="194.3" rx="6.0" ry="6.2" fill="#d6008e"/>
<ellipse cx="808.6" cy="198.5" rx="6.0" ry="6.2" fill="#db008a"/>
<ellipse cx="802.1" cy="210.4" rx="6.0" ry="6.2" fill="#e30082"/>
<ellipse cx="797.3" cy="219.5" rx="6.0" ry="6.2" fill="#794cce"/>
<ellipse cx="765.1" cy="200.4" rx="6.0" ry="6.2" fill="#8a3cc0"/>
<ellipse cx="825.6" cy="191.2" rx="6.0" ry="6.2" fill="#575fdf"/>
<ellipse cx="798.8" cy="198.9" rx="6.0" ry="6.2" fill="#d6008e"/>
<ellipse cx="761.6" cy="207.4" rx="6.0" ry="6.2" fill="#6c54d6"/>
<ellipse cx="760.7" cy="183.7" rx="6.0" ry="6.2" fill="#ff0053"/>
<ellipse cx="806.2" cy="200.7" rx="6.0" ry="6.2" fill="#8542c5"/>
<ellipse cx="806.3" cy="195.9" rx="6.0" ry="6.2" fill="#9829b1"/>
<ellipse cx="805.6" cy="197.3" rx="6.0" ry="6.2" fill="#7d49cc"/>
<ellipse cx="788.0" cy="188.5" rx="6.0" ry="6.2" fill="#6857d8"/>
<ellipse cx="764.1" cy="210.2" rx="6.0" ry="6.2" fill="#9430b6"/>
<ellipse cx="764.4" cy="193.0" rx="6.0" ry="6.2" fill="#0082f8"/>
<ellipse cx="795.5" cy="190.7" rx="6.0" ry="6.2" fill="#9430b6"/>
<ellipse cx="822.5" cy="191.5" rx="6.0" ry="6.2" fill="#9829b1"/>
<ellipse cx="769.2" cy="189.8" rx="6.0" ry="6.2" fill="#8244c7"/>
<ellipse cx="772.6" cy="189.1" rx="6.0" ry="6.2" fill="#007cf5"/>
<ellipse cx="769.5" cy="201.9" rx="6.0" ry="6.2" fill="#962db3"/>
<ellipse cx="839.9" cy="192.0" rx="6.0" ry="6.2" fill="#007ff7"/>
<ellipse cx="748.5" cy="189.3" rx="6.0" ry="6.2" fill="#605bdc"/>
<ellipse cx="761.8" cy="173.7" rx="6.0" ry="6.2" fill="#ff0053"/>
<ellipse cx="764.0" cy="173.5" rx="6.0" ry="6.2" fill="#4664e4"/>
<ellipse cx="766.2" cy="200.0" rx="6.0" ry="6.2" fill="#883fc2"/>
<ellipse cx="805.6" cy="199.8" rx="6.0" ry="6.2" fill="#605bdc"/>
<ellipse cx="762.3" cy="193.0" rx="6.0" ry="6.2" fill="#0077f2"/>
<ellipse cx="794.7" cy="175.7" rx="6.0" ry="6.2" fill="#9d22ac"/>
<ellipse cx="779.7" cy="185.7" rx="6.0" ry="6.2" fill="#007cf5"/>
<ellipse cx="741.5" cy="192.2" rx="6.0" ry="6.2" fill="#8244c7"/>
<ellipse cx="802.6" cy="201.0" rx="6.0" ry="6.2" fill="#962db3"/>
<ellipse cx="774.4" cy="185.8" rx="6.0" ry="6.2" fill="#962db3"/>
<ellipse cx="771.2" cy="210.1" rx="6.0" ry="6.2" fill="#b604a2"/>
<ellipse cx="755.4" cy="197.3" rx="6.0" ry="6.2" fill="#8f36bb"/>
<ellipse cx="793.6" cy="195.8" rx="6.0" ry="6.2" fill="#7d49cc"/>
<ellipse cx="773.3" cy="179.1" rx="6.0" ry="6.2" fill="#8a3cc0"/>
<ellipse cx="778.9" cy="196.8" rx="6.0" ry="6.2" fill="#bf009d"/>
<ellipse cx="802.9" cy="185.9" rx="6.0" ry="6.2" fill="#d10091"/>
<ellipse cx="765.8" cy="202.8" rx="6.0" ry="6.2" fill="#0076f1"/>
<ellipse cx="785.2" cy="204.1" rx="6.0" ry="6.2" fill="#883fc2"/>
<ellipse cx="782.8" cy="194.3" rx="6.0" ry="6.2" fill="#007ef6"/>
<ellipse cx="764.3" cy="185.7" rx="6.0" ry="6.2" fill="#b900a0"/>
<ellipse cx="794.2" cy="206.2" rx="6.0" ry="6.2" fill="#575fdf"/>
<ellipse cx="796.4" cy="202.7" rx="6.0" ry="6.2" fill="#8f36bb"/>
<ellipse cx="813.8" cy="196.6" rx="6.0" ry="6.2" fill="#9430b6"/>
<ellipse cx="799.1" cy="185.5" rx="6.0" ry="6.2" fill="#b900a0"/>
<ellipse cx="801.9" cy="172.8" rx="6.0" ry="6.2" fill="#8542c5"/>
<ellipse cx="761.1" cy="209.8" rx="6.0" ry="6.2" fill="#d40090"/>
<ellipse cx="831.5" cy="194.4" rx="6.0" ry="6.2" fill="#9233b9"/>
<ellipse cx="810.5" cy="192.1" rx="6.0" ry="6.2" fill="#9d22ac"/>
<ellipse cx="790.2" cy="192.0" rx="6.0" ry="6.2" fill="#4c63e3"/>
<ellipse cx="762.2" cy="214.6" rx="6.0" ry="6.2" fill="#8047c9"/>
<ellipse cx="756.0" cy="173.4" rx="6.0" ry="6.2" fill="#e10084"/>
<ellipse cx="822.4" cy="194.1" rx="6.0" ry="6.2" fill="#9430b6"/>
<ellipse cx="765.8" cy="190.4" rx="6.0" ry="6.2" fill="#df0086"/>
<ellipse cx="794.2" cy="193.4" rx="6.0" ry="6.2" fill="#fe005c"/>
<ellipse cx="737.4" cy="195.0" rx="6.0" ry="6.2" fill="#b00fa5"/>
<ellipse cx="804.0" cy="173.9" rx="6.0" ry="6.2" fill="#8542c5"/>
<ellipse cx="722.9" cy="193.7" rx="6.0" ry="6.2" fill="#ff0056"/>
<ellipse cx="817.1" cy="194.3" rx="6.0" ry="6.2" fill="#8d39be"/>
<ellipse cx="755.9" cy="175.8" rx="6.0" ry="6.2" fill="#e30082"/>
<ellipse cx="802.9" cy="212.8" rx="6.0" ry="6.2" fill="#0082f8"/>
<ellipse cx="765.8" cy="202.4" rx="6.0" ry="6.2" fill="#962db3"/>
<ellipse cx="807.9" cy="176.9" rx="6.0" ry="6.2" fill="#9829b1"/>
<ellipse cx="792.5" cy="199.6" rx="6.0" ry="6.2" fill="#883fc2"/>
<ellipse cx="803.2" cy="203.4" rx="6.0" ry="6.2" fill="#8047c9"/>
<ellipse cx="781.2" cy="185.5" rx="6.0" ry="6.2" fill="#7d49cc"/>
<ellipse cx="795.7" cy="168.6" rx="6.0" ry="6.2" fill="#9233b9"/>
<ellipse cx="803.2" cy="184.6" rx="6.0" ry="6.2" fill="#007ff7"/>
<ellipse cx="784.1" cy="182.6" rx="6.0" ry="6.2" fill="#8d39be"/>
<ellipse cx="749.5" cy="188.4" rx="6.0" ry="6.2" fill="#7d49cc"/>
<ellipse cx="804.4" cy="197.9" rx="6.0" ry="6.2" fill="#6459da"/>
<ellipse cx="757.2" cy="209.1" rx="6.0" ry="6.2" fill="#8244c7"/>
<ellipse cx="807.6" cy="210.2" rx="6.0" ry="6.2" fill="#962db3"/>
<ellipse cx="763.7" cy="178.2" rx="6.0" ry="6.2" fill="#0077f2"/>
<ellipse cx="752.0" cy="196.9" rx="6.0" ry="6.2" fill="#5261e1"/>
<ellipse cx="768.5" cy="177.7" rx="6.0" ry="6.2" fill="#8d39be"/>
<ellipse cx="801.4" cy="194.0" rx="6.0" ry="6.2" fill="#d9008c"/>
<ellipse cx="807.2" cy="188.8" rx="6.0" ry="6.2" fill="#8244c7"/>
<ellipse cx="790.3" cy="201.8" rx="6.0" ry="6.2" fill="#c5009a"/>
<ellipse cx="792.3" cy="187.9" rx="6.0" ry="6.2" fill="#d9008c"/>
<ellipse cx="789.5" cy="203.9" rx="6.0" ry="6.2" fill="#9829b1"/>
<ellipse cx="794.0" cy="178.8" rx="6.0" ry="6.2" fill="#8f36bb"/>
<ellipse cx="758.2" cy="201.9" rx="6.0" ry="6.2" fill="#007cf5"/>
<ellipse cx="761.0" cy="183.4" rx="6.0" ry="6.2" fill="#0084f9"/>
<ellipse cx="794.7" cy="166.3" rx="6.0" ry="6.2" fill="#007ef6"/>
<ellipse cx="758.6" cy="198.3" rx="6.0" ry="6.2" fill="#8d39be"/>
<ellipse cx="759.5" cy="198.4" rx="6.0" ry="6.2" fill="#605bdc"/>
<ellipse cx="795.0" cy="208.6" rx="6.0" ry="6.2" fill="#8a3cc0"/>
<ellipse cx="749.7" cy="195.5" rx="6.0" ry="6.2" fill="#962db3"/>
<ellipse cx="753.9" cy="186.4" rx="6.0" ry="6.2" fill="#5261e1"/>
<ellipse cx="803.8" cy="200.3" rx="6.0" ry="6.2" fill="#007bf4"/>
<ellipse cx="801.4" cy="196.3" rx="6.0" ry="6.2" fill="#9430b6"/>
<ellipse cx="795.5" cy="183.5" rx="6.0" ry="6.2" fill="#5b5ddd"/>
<ellipse cx="768.0" cy="214.2" rx="6.0" ry="6.2" fill="#9829b1"/>
<ellipse cx="795.5" cy="185.1" rx="6.0" ry="6.2" fill="#8244c7"/>
<ellipse cx="783.7" cy="187.3" rx="6.0" ry="6.2" fill="#8047c9"/>
<ellipse cx="793.1" cy="200.7" rx="6.0" ry="6.2" fill="#8d39be"/>
<ellipse cx="751.1" cy="196.2" rx="6.0" ry="6.2" fill="#b604a2"/>
<ellipse cx="761.4" cy="195.4" rx="6.0" ry="6.2" fill="#9430b6"/>
<ellipse cx="782.0" cy="195.6" rx="6.0" ry="6.2" fill="#8047c9"/>
<ellipse cx="796.0" cy="169.1" rx="6.0" ry="6.2" fill="#9829b1"/>
<ellipse cx="737.2" cy="192.5" rx="6.0" ry="6.2" fill="#605bdc"/>
<ellipse cx="739.5" cy="189.8" rx="6.0" ry="6.2" fill="#b604a2"/>
<ellipse cx="752.2" cy="191.3" rx="6.0" ry="6.2" fill="#9d22ac"/>
<ellipse cx="752.9" cy="202.0" rx="6.0" ry="6.2" fill="#8d39be"/>
<ellipse cx="840.0" cy="197.3" rx="6.0" ry="6.2" fill="#007ff7"/>
<ellipse cx="786.3" cy="192.0" rx="6.0" ry="6.2" fill="#8f36bb"/>
<ellipse cx="760.4" cy="217.9" rx="6.0" ry="6.2" fill="#8f36bb"/>
<ellipse cx="803.5" cy="176.3" rx="6.0" ry="6.2" fill="#8a3cc0"/>
<ellipse cx="821.5" cy="187.5" rx="6.0" ry="6.2" fill="#5b5ddd"/>
<ellipse cx="801.5" cy="189.3" rx="6.0" ry="6.2" fill="#ff0053"/>
<ellipse cx="767.3" cy="209.4" rx="6.0" ry="6.2" fill="#b604a2"/>
<ellipse cx="762.7" cy="219.4" rx="6.0" ry="6.2" fill="#4c63e3"/>
<ellipse cx="782.9" cy="189.7" rx="6.0" ry="6.2" fill="#8542c5"/>
<ellipse cx="792.1" cy="197.3" rx="6.0" ry="6.2" fill="#9430b6"/>
<ellipse cx="792.2" cy="202.0" rx="6.0" ry="6.2" fill="#7d49cc"/>
<ellipse cx="823.1" cy="200.7" rx="6.0" ry="6.2" fill="#8f36bb"/>
<ellipse cx="793.1" cy="198.2" rx="6.0" ry="6.2" fill="#8047c9"/>
<ellipse cx="766.5" cy="212.0" rx="6.0" ry="6.2" fill="#8047c9"/>
<ellipse cx="807.5" cy="193.8" rx="6.0" ry="6.2" fill="#9a25ae"/>
<ellipse cx="804.2" cy="209.9" rx="6.0" ry="6.2" fill="#8d39be"/>
<ellipse cx="752.2" cy="186.5" rx="6.0" ry="6.2" fill="#8a3cc0"/>
<ellipse cx="781.2" cy="205.6" rx="6.0" ry="6.2" fill="#8a3cc0"/>
<ellipse cx="807.1" cy="186.4" rx="6.0" ry="6.2" fill="#0079f3"/>
<ellipse cx="764.3" cy="207.7" rx="6.0" ry="6.2" fill="#0079f3"/>
<ellipse cx="775.1" cy="197.5" rx="6.0" ry="6.2" fill="#8542c5"/>
<ellipse cx="800.6" cy="208.4" rx="6.0" ry="6.2" fill="#8f36bb"/>
<ellipse cx="717.5" cy="193.7" rx="6.0" ry="6.2" fill="#ff0056"/>
<ellipse cx="786.2" cy="187.1" rx="6.0" ry="6.2" fill="#d10091"/>
<ellipse cx="805.2" cy="180.3" rx="6.0" ry="6.2" fill="#8d39be"/>
<ellipse cx="798.5" cy="195.1" rx="6.0" ry="6.2" fill="#8542c5"/>
<ellipse cx="799.9" cy="207.0" rx="6.0" ry="6.2" fill="#9d22ac"/>
<ellipse cx="782.9" cy="203.5" rx="6.0" ry="6.2" fill="#883fc2"/>
<ellipse cx="787.1" cy="193.2" rx="6.0" ry="6.2" fill="#8a3cc0"/>
<ellipse cx="797.0" cy="209.9" rx="6.0" ry="6.2" fill="#8542c5"/>
<ellipse cx="788.3" cy="187.3" rx="6.0" ry="6.2" fill="#9430b6"/>
<ellipse cx="811.7" cy="195.7" rx="6.0" ry="6.2" fill="#9829b1"/>
<ellipse cx="764.0" cy="190.0" rx="6.0" ry="6.2" fill="#5261e1"/>
<ellipse cx="756.6" cy="189.7" rx="6.0" ry="6.2" fill="#007ef6"/>
<ellipse cx="770.3" cy="203.1" rx="6.0" ry="6.2" fill="#9a25ae"/>
<ellipse cx="796.2" cy="188.3" rx="6.0" ry="6.2" fill="#b30aa3"/>
<ellipse cx="769.9" cy="172.9" rx="6.0" ry="6.2" fill="#794cce"/>
<ellipse cx="740.6" cy="189.8" rx="6.0" ry="6.2" fill="#ff0056"/>
<ellipse cx="791.2" cy="209.0" rx="6.0" ry="6.2" fill="#962db3"/>
<ellipse cx="795.8" cy="212.3" rx="6.0" ry="6.2" fill="#ff005a"/>
<ellipse cx="788.5" cy="192.0" rx="6.0" ry="6.2" fill="#0076f1"/>
<ellipse cx="763.2" cy="173.5" rx="6.0" ry="6.2" fill="#d9008c"/>
<ellipse cx="787.9" cy="207.3" rx="6.0" ry="6.2" fill="#007bf4"/>
<ellipse cx="805.4" cy="185.2" rx="6.0" ry="6.2" fill="#8a3cc0"/>
<ellipse cx="757.1" cy="211.6" rx="6.0" ry="6.2" fill="#8244c7"/>
<ellipse cx="771.6" cy="182.1" rx="6.0" ry="6.2" fill="#8244c7"/>
<ellipse cx="759.0" cy="215.0" rx="6.0" ry="6.2" fill="#962db3"/>
<ellipse cx="745.7" cy="194.4" rx="6.0" ry="6.2" fill="#6c54d6"/>
<ellipse cx="770.8" cy="198.4" rx="6.0" ry="6.2" fill="#0079f3"/>
<ellipse cx="808.8" cy="181.9" rx="6.0" ry="6.2" fill="#ff0053"/>
<ellipse cx="773.7" cy="190.7" rx="6.0" ry="6.2" fill="#5b5ddd"/>
<ellipse cx="774.7" cy="178.6" rx="6.0" ry="6.2" fill="#cd0095"/>
<ellipse cx="783.3" cy="196.6" rx="6.0" ry="6.2" fill="#962db3"/>
<ellipse cx="772.3" cy="184.1" rx="6.0" ry="6.2" fill="#7d49cc"/>
<ellipse cx="724.1" cy="193.7" rx="6.0" ry="6.2" fill="#ff0056"/>
<ellipse cx="758.9" cy="207.9" rx="6.0" ry="6.2" fill="#6857d8"/>
<ellipse cx="757.0" cy="194.6" rx="6.0" ry="6.2" fill="#ca0097"/>
<ellipse cx="775.5" cy="195.1" rx="6.0" ry="6.2" fill="#8244c7"/>
<ellipse cx="784.3" cy="203.8" rx="6.0" ry="6.2" fill="#9a25ae"/>
<ellipse cx="802.6" cy="198.7" rx="6.0" ry="6.2" fill="#883fc2"/>
<ellipse cx="777.6" cy="206.1" rx="6.0" ry="6.2" fill="#0084f9"/>
<ellipse cx="780.6" cy="200.8" rx="6.0" ry="6.2" fill="#007bf4"/>
<ellipse cx="761.2" cy="215.4" rx="6.0" ry="6.2" fill="#b604a2"/>
<ellipse cx="811.7" cy="192.9" rx="6.0" ry="6.2" fill="#bf009d"/>
<ellipse cx="765.9" cy="173.6" rx="6.0" ry="6.2" fill="#007ff7"/>
<ellipse cx="786.3" cy="194.4" rx="6.0" ry="6.2" fill="#c5009a"/>
<ellipse cx="803.3" cy="178.7" rx="6.0" ry="6.2" fill="#e30082"/>
<ellipse cx="755.0" cy="204.5" rx="6.0" ry="6.2" fill="#007bf4"/>
<ellipse cx="795.5" cy="176.3" rx="6.0" ry="6.2" fill="#d6008e"/>
<ellipse cx="809.3" cy="189.7" rx="6.0" ry="6.2" fill="#b604a2"/>
<ellipse cx="797.3" cy="181.1" rx="6.0" ry="6.2" fill="#0077f2"/>
<ellipse cx="759.8" cy="200.8" rx="6.0" ry="6.2" fill="#0084f9"/>
<ellipse cx="795.6" cy="187.4" rx="6.0" ry="6.2" fill="#b00fa5"/>
<ellipse cx="766.1" cy="188.0" rx="6.0" ry="6.2" fill="#605bdc"/>
<ellipse cx="767.3" cy="197.6" rx="6.0" ry="6.2" fill="#9233b9"/>
<ellipse cx="794.9" cy="189.8" rx="6.0" ry="6.2" fill="#0076f1"/>
<ellipse cx="762.9" cy="201.8" rx="6.0" ry="6.2" fill="#9a25ae"/>
<ellipse cx="799.3" cy="192.7" rx="6.0" ry="6.2" fill="#8a3cc0"/>
<ellipse cx="755.2" cy="198.9" rx="6.0" ry="6.2" fill="#883fc2"/>
<ellipse cx="760.7" cy="176.4" rx="6.0" ry="6.2" fill="#962db3"/>
<ellipse cx="794.8" cy="194.5" rx="6.0" ry="6.2" fill="#883fc2"/>
<ellipse cx="737.1" cy="193.3" rx="6.0" ry="6.2" fill="#ff0051"/>
<ellipse cx="807.3" cy="193.5" rx="6.0" ry="6.2" fill="#9233b9"/>
<ellipse cx="759.8" cy="193.5" rx="6.0" ry="6.2" fill="#b604a2"/>
<ellipse cx="797.0" cy="206.1" rx="6.0" ry="6.2" fill="#b00fa5"/>
<ellipse cx="768.9" cy="204.3" rx="6.0" ry="6.2" fill="#5261e1"/>
<ellipse cx="754.5" cy="181.4" rx="6.0" ry="6.2" fill="#883fc2"/>
<ellipse cx="788.5" cy="208.7" rx="6.0" ry="6.2" fill="#db008a"/>
<ellipse cx="756.9" cy="192.2" rx="6.0" ry="6.2" fill="#ff0056"/>
<ellipse cx="747.6" cy="194.4" rx="6.0" ry="6.2" fill="#8047c9"/>
<ellipse cx="794.9" cy="192.1" rx="6.0" ry="6.2" fill="#ff0058"/>
<ellipse cx="759.5" cy="172.1" rx="6.0" ry="6.2" fill="#7d49cc"/>
<ellipse cx="805.7" cy="202.2" rx="6.0" ry="6.2" fill="#883fc2"/>
<ellipse cx="826.3" cy="197.7" rx="6.0" ry="6.2" fill="#9430b6"/>
<ellipse cx="740.0" cy="192.1" rx="6.0" ry="6.2" fill="#6459da"/>
<ellipse cx="800.3" cy="203.5" rx="6.0" ry="6.2" fill="#c5009a"/>
<ellipse cx="765.9" cy="185.6" rx="6.0" ry="6.2" fill="#0082f8"/>
<ellipse cx="770.2" cy="177.4" rx="6.0" ry="6.2" fill="#883fc2"/>
<ellipse cx="784.4" cy="194.4" rx="6.0" ry="6.2" fill="#0077f2"/>
<ellipse cx="774.6" cy="199.8" rx="6.0" ry="6.2" fill="#8a3cc0"/>
<ellipse cx="779.4" cy="187.6" rx="6.0" ry="6.2" fill="#9a25ae"/>
<ellipse cx="774.6" cy="181.0" rx="6.0" ry="6.2" fill="#bf009d"/>
<ellipse cx="767.8" cy="192.5" rx="6.0" ry="6.2" fill="#883fc2"/>
<ellipse cx="825.6" cy="185.6" rx="6.0" ry="6.2" fill="#9233b9"/>
<ellipse cx="813.2" cy="197.2" rx="6.0" ry="6.2" fill="#8a3cc0"/>
<ellipse cx="793.7" cy="176.4" rx="6.0" ry="6.2" fill="#9233b9"/>
<ellipse cx="801.8" cy="201.1" rx="6.0" ry="6.2" fill="#8f36bb"/>
<ellipse cx="794.1" cy="210.4" rx="6.0" ry="6.2" fill="#8d39be"/>
<ellipse cx="800.9" cy="181.7" rx="6.0" ry="6.2" fill="#007ff7"/>
<ellipse cx="758.6" cy="205.5" rx="6.0" ry="6.2" fill="#6c54d6"/>
<ellipse cx="782.4" cy="205.8" rx="6.0" ry="6.2" fill="#0082f8"/>
<ellipse cx="798.6" cy="172.6" rx="6.0" ry="6.2" fill="#794cce"/>
<ellipse cx="799.0" cy="183.1" rx="6.0" ry="6.2" fill="#8a3cc0"/>
<ellipse cx="759.5" cy="210.6" rx="6.0" ry="6.2" fill="#9d22ac"/>
<ellipse cx="780.4" cy="183.2" rx="6.0" ry="6.2" fill="#007ef6"/>
<ellipse cx="743.2" cy="199.5" rx="6.0" ry="6.2" fill="#8047c9"/>
<ellipse cx="824.2" cy="193.8" rx="6.0" ry="6.2" fill="#9430b6"/>
<ellipse cx="753.7" cy="199.4" rx="6.0" ry="6.2" fill="#9430b6"/>
<ellipse cx="763.6" cy="192.4" rx="6.0" ry="6.2" fill="#8f36bb"/>
<ellipse cx="801.6" cy="205.9" rx="6.0" ry="6.2" fill="#007ef6"/>
<ellipse cx="823.7" cy="189.2" rx="6.0" ry="6.2" fill="#4c63e3"/>
<ellipse cx="804.9" cy="190.0" rx="6.0" ry="6.2" fill="#8542c5"/>
<ellipse cx="771.0" cy="179.7" rx="6.0" ry="6.2" fill="#8047c9"/>
<ellipse cx="716.9" cy="194.1" rx="6.0" ry="6.2" fill="#ff0056"/>
<ellipse cx="739.7" cy="196.8" rx="6.0" ry="6.2" fill="#b30aa3"/>
<ellipse cx="810.6" cy="196.7" rx="6.0" ry="6.2" fill="#6459da"/>
<ellipse cx="838.2" cy="195.4" rx="6.0" ry="6.2" fill="#007ff7"/>
<ellipse cx="781.4" cy="203.1" rx="6.0" ry="6.2" fill="#0082f8"/>
<ellipse cx="823.6" cy="184.6" rx="6.0" ry="6.2" fill="#9233b9"/>
<ellipse cx="794.7" cy="171.0" rx="6.0" ry="6.2" fill="#ff0056"/>
<ellipse cx="821.6" cy="189.7" rx="6.0" ry="6.2" fill="#9233b9"/>
<ellipse cx="779.1" cy="205.8" rx="6.0" ry="6.2" fill="#ff0051"/>
<ellipse cx="795.8" cy="218.0" rx="6.0" ry="6.2" fill="#0081f7"/>
<ellipse cx="756.6" cy="192.5" rx="6.0" ry="6.2" fill="#962db3"/>
<ellipse cx="768.7" cy="187.4" rx="6.0" ry="6.2" fill="#b604a2"/>
<ellipse cx="777.6" cy="203.9" rx="6.0" ry="6.2" fill="#b00fa5"/>
<ellipse cx="725.8" cy="193.7" rx="6.0" ry="6.2" fill="#ff0056"/>
<ellipse cx="763.6" cy="168.8" rx="6.0" ry="6.2" fill="#9a25ae"/>
<ellipse cx="805.5" cy="207.0" rx="6.0" ry="6.2" fill="#8542c5"/>
<ellipse cx="768.2" cy="202.1" rx="6.0" ry="6.2" fill="#8d39be"/>
<ellipse cx="757.9" cy="170.3" rx="6.0" ry="6.2" fill="#0082f8"/>
<ellipse cx="771.2" cy="186.7" rx="6.0" ry="6.2" fill="#8244c7"/>
<ellipse cx="767.0" cy="190.0" rx="6.0" ry="6.2" fill="#8d39be"/>
<ellipse cx="758.7" cy="174.5" rx="6.0" ry="6.2" fill="#6459da"/>
<ellipse cx="759.4" cy="169.1" rx="6.0" ry="6.2" fill="#0084f9"/>
<ellipse cx="764.0" cy="188.2" rx="6.0" ry="6.2" fill="#007ff7"/>
<ellipse cx="789.9" cy="199.4" rx="6.0" ry="6.2" fill="#794cce"/>
<ellipse cx="792.5" cy="185.5" rx="6.0" ry="6.2" fill="#007bf4"/>
<ellipse cx="763.6" cy="208.9" rx="6.0" ry="6.2" fill="#9a25ae"/>
<ellipse cx="764.1" cy="171.0" rx="6.0" ry="6.2" fill="#6459da"/>
<ellipse cx="804.1" cy="171.5" rx="6.0" ry="6.2" fill="#8f36bb"/>
<ellipse cx="775.2" cy="185.8" rx="6.0" ry="6.2" fill="#ff0056"/>
<ellipse cx="779.2" cy="193.2" rx="6.0" ry="6.2" fill="#8542c5"/>
<ellipse cx="740.8" cy="197.1" rx="6.0" ry="6.2" fill="#ff0053"/>
<ellipse cx="792.9" cy="215.3" rx="6.0" ry="6.2" fill="#007cf5"/>
<ellipse cx="800.6" cy="213.2" rx="6.0" ry="6.2" fill="#8d39be"/>
<ellipse cx="788.1" cy="180.2" rx="6.0" ry="6.2" fill="#df0086"/>
<ellipse cx="755.3" cy="187.7" rx="6.0" ry="6.2" fill="#b900a0"/>
<ellipse cx="836.0" cy="194.4" rx="6.0" ry="6.2" fill="#007ef6"/>
<ellipse cx="802.8" cy="215.1" rx="6.0" ry="6.2" fill="#8244c7"/>
<ellipse cx="796.0" cy="205.1" rx="6.0" ry="6.2" fill="#e30082"/>
<ellipse cx="768.7" cy="211.8" rx="6.0" ry="6.2" fill="#8d39be"/>
<ellipse cx="767.1" cy="178.4" rx="6.0" ry="6.2" fill="#0077f2"/>
<ellipse cx="792.9" cy="173.9" rx="6.0" ry="6.2" fill="#8047c9"/>
<ellipse cx="744.6" cy="199.3" rx="6.0" ry="6.2" fill="#ff0058"/>
<ellipse cx="764.0" cy="216.0" rx="6.0" ry="6.2" fill="#9d22ac"/>
<ellipse cx="787.8" cy="200.2" rx="6.0" ry="6.2" fill="#d9008c"/>
<ellipse cx="735.8" cy="195.7" rx="6.0" ry="6.2" fill="#7d49cc"/>
<ellipse cx="826.9" cy="197.2" rx="6.0" ry="6.2" fill="#9233b9"/>
<ellipse cx="788.1" cy="182.5" rx="6.0" ry="6.2" fill="#007bf4"/>
<ellipse cx="772.3" cy="194.0" rx="6.0" ry="6.2" fill="#0077f2"/>
<ellipse cx="770.3" cy="182.6" rx="6.0" ry="6.2" fill="#5b5ddd"/>
<ellipse cx="755.0" cy="199.7" rx="6.0" ry="6.2" fill="#962db3"/>
<ellipse cx="796.9" cy="207.5" rx="6.0" ry="6.2" fill="#9829b1"/>
<ellipse cx="804.3" cy="188.3" rx="6.0" ry="6.2" fill="#cf0093"/>
<ellipse cx="783.8" cy="201.4" rx="6.0" ry="6.2" fill="#6857d8"/>
<ellipse cx="769.1" cy="180.2" rx="6.0" ry="6.2" fill="#9a25ae"/>
<ellipse cx="765.6" cy="215.1" rx="6.0" ry="6.2" fill="#883fc2"/>
<ellipse cx="817.7" cy="196.6" rx="6.0" ry="6.2" fill="#9829b1"/>
<ellipse cx="795.4" cy="178.0" rx="6.0" ry="6.2" fill="#0081f7"/>
<ellipse cx="754.6" cy="183.9" rx="6.0" ry="6.2" fill="#cd0095"/>
<ellipse cx="759.7" cy="193.6" rx="6.0" ry="6.2" fill="#007ef6"/>
<ellipse cx="777.6" cy="194.4" rx="6.0" ry="6.2" fill="#ff0056"/>
<ellipse cx="768.4" cy="206.8" rx="6.0" ry="6.2" fill="#9829b1"/>
<ellipse cx="774.0" cy="195.6" rx="6.0" ry="6.2" fill="#c70098"/>
<ellipse cx="783.6" cy="206.2" rx="6.0" ry="6.2" fill="#575fdf"/>
<ellipse cx="781.3" cy="200.6" rx="6.0" ry="6.2" fill="#8542c5"/>
<ellipse cx="807.9" cy="191.4" rx="6.0" ry="6.2" fill="#883fc2"/>
<ellipse cx="735.2" cy="192.3" rx="6.0" ry="6.2" fill="#8244c7"/>
<ellipse cx="827.5" cy="191.6" rx="6.0" ry="6.2" fill="#962db3"/>
<ellipse cx="761.7" cy="190.6" rx="6.0" ry="6.2" fill="#9430b6"/>
<ellipse cx="770.1" cy="191.4" rx="6.0" ry="6.2" fill="#d6008e"/>
<ellipse cx="794.3" cy="188.5" rx="6.0" ry="6.2" fill="#9a25ae"/>
<ellipse cx="777.6" cy="203.8" rx="6.0" ry="6.2" fill="#4c63e3"/>
<ellipse cx="744.9" cy="192.1" rx="6.0" ry="6.2" fill="#8542c5"/>
<ellipse cx="777.8" cy="189.6" rx="6.0" ry="6.2" fill="#8d39be"/>
<ellipse cx="824.8" cy="190.2" rx="6.0" ry="6.2" fill="#8d39be"/>
<ellipse cx="764.1" cy="206.5" rx="6.0" ry="6.2" fill="#9233b9"/>
<ellipse cx="769.1" cy="211.6" rx="6.0" ry="6.2" fill="#8542c5"/>
<ellipse cx="755.5" cy="183.0" rx="6.0" ry="6.2" fill="#8f36bb"/>
<ellipse cx="776.4" cy="181.1" rx="6.0" ry="6.2" fill="#8a3cc0"/>
<ellipse cx="758.5" cy="179.2" rx="6.0" ry="6.2" fill="#dd0088"/>
<ellipse cx="820.6" cy="195.7" rx="6.0" ry="6.2" fill="#962db3"/>
<ellipse cx="806.2" cy="181.6" rx="6.0" ry="6.2" fill="#ff0058"/>
<ellipse cx="796.5" cy="193.1" rx="6.0" ry="6.2" fill="#0077f2"/>
<ellipse cx="797.3" cy="184.5" rx="6.0" ry="6.2" fill="#605bdc"/>
<ellipse cx="783.6" cy="189.6" rx="6.0" ry="6.2" fill="#007ff7"/>
<ellipse cx="766.0" cy="171.2" rx="6.0" ry="6.2" fill="#bc009f"/>
<ellipse cx="798.4" cy="171.1" rx="6.0" ry="6.2" fill="#007cf5"/>
<ellipse cx="755.1" cy="203.9" rx="6.0" ry="6.2" fill="#0079f3"/>
<ellipse cx="825.6" cy="199.2" rx="6.0" ry="6.2" fill="#8a3cc0"/>
<ellipse cx="809.3" cy="184.3" rx="6.0" ry="6.2" fill="#ff0051"/>
<ellipse cx="753.5" cy="191.8" rx="6.0" ry="6.2" fill="#0077f2"/>
<ellipse cx="798.5" cy="182.2" rx="6.0" ry="6.2" fill="#8f36bb"/>
<ellipse cx="840.7" cy="198.9" rx="6.0" ry="6.2" fill="#0081f7"/>
<ellipse cx="767.2" cy="178.0" rx="6.0" ry="6.2" fill="#0082f8"/>
<ellipse cx="758.1" cy="175.2" rx="6.0" ry="6.2" fill="#962db3"/>
<ellipse cx="791.5" cy="183.2" rx="6.0" ry="6.2" fill="#0076f1"/>
<ellipse cx="791.0" cy="211.4" rx="6.0" ry="6.2" fill="#8d39be"/>
<ellipse cx="799.0" cy="211.8" rx="6.0" ry="6.2" fill="#0076f1"/>
<ellipse cx="750.6" cy="201.0" rx="6.0" ry="6.2" fill="#0082f8"/>
<ellipse cx="800.3" cy="174.5" rx="6.0" ry="6.2" fill="#9233b9"/>
<ellipse cx="791.1" cy="190.2" rx="6.0" ry="6.2" fill="#0079f3"/>
<ellipse cx="801.8" cy="215.6" rx="6.0" ry="6.2" fill="#db008a"/>
<ellipse cx="758.2" cy="195.9" rx="6.0" ry="6.2" fill="#8047c9"/>
<ellipse cx="797.2" cy="195.5" rx="6.0" ry="6.2" fill="#8d39be"/>
<ellipse cx="770.2" cy="175.1" rx="6.0" ry="6.2" fill="#0085f9"/>
<ellipse cx="762.6" cy="194.7" rx="6.0" ry="6.2" fill="#bf009d"/>
<ellipse cx="829.0" cy="193.2" rx="6.0" ry="6.2" fill="#4c63e3"/>
<ellipse cx="800.4" cy="190.3" rx="6.0" ry="6.2" fill="#962db3"/>
<ellipse cx="788.1" cy="199.2" rx="6.0" ry="6.2" fill="#7d49cc"/>
<ellipse cx="809.1" cy="205.6" rx="6.0" ry="6.2" fill="#4c63e3"/>
<ellipse cx="795.0" cy="210.9" rx="6.0" ry="6.2" fill="#ff0058"/>
<ellipse cx="768.3" cy="180.4" rx="6.0" ry="6.2" fill="#8047c9"/>
<ellipse cx="797.2" cy="214.7" rx="6.0" ry="6.2" fill="#007cf5"/>
<ellipse cx="788.2" cy="197.9" rx="6.0" ry="6.2" fill="#883fc2"/>
<ellipse cx="769.6" cy="199.5" rx="6.0" ry="6.2" fill="#8244c7"/>
<ellipse cx="816.1" cy="192.2" rx="6.0" ry="6.2" fill="#9233b9"/>
<ellipse cx="780.9" cy="188.2" rx="6.0" ry="6.2" fill="#8a3cc0"/>
<ellipse cx="749.7" cy="190.7" rx="6.0" ry="6.2" fill="#575fdf"/>
<ellipse cx="743.3" cy="192.2" rx="6.0" ry="6.2" fill="#8244c7"/>
<ellipse cx="755.2" cy="193.9" rx="6.0" ry="6.2" fill="#8244c7"/>
<ellipse cx="811.5" cy="190.1" rx="6.0" ry="6.2" fill="#0084f9"/>
<ellipse cx="758.0" cy="176.8" rx="6.0" ry="6.2" fill="#9a25ae"/>
<ellipse cx="821.9" cy="191.9" rx="6.0" ry="6.2" fill="#9829b1"/>
<ellipse cx="730.2" cy="193.7" rx="6.0" ry="6.2" fill="#ff0056"/>
<ellipse cx="754.2" cy="196.4" rx="6.0" ry="6.2" fill="#007bf4"/>
<ellipse cx="760.7" cy="203.2" rx="6.0" ry="6.2" fill="#9430b6"/>
<ellipse cx="774.2" cy="183.4" rx="6.0" ry="6.2" fill="#dd0088"/>
<ellipse cx="802.0" cy="205.7" rx="6.0" ry="6.2" fill="#8a3cc0"/>
<ellipse cx="764.4" cy="217.5" rx="6.0" ry="6.2" fill="#b30aa3"/>
<ellipse cx="777.8" cy="201.6" rx="6.0" ry="6.2" fill="#ca0097"/>
<ellipse cx="800.0" cy="179.3" rx="6.0" ry="6.2" fill="#7d49cc"/>
<ellipse cx="804.3" cy="195.5" rx="6.0" ry="6.2" fill="#9430b6"/>
<ellipse cx="787.2" cy="181.5" rx="6.0" ry="6.2" fill="#9829b1"/>
<ellipse cx="764.1" cy="187.6" rx="6.0" ry="6.2" fill="#9430b6"/>
<ellipse cx="803.6" cy="212.3" rx="6.0" ry="6.2" fill="#8f36bb"/>
<ellipse cx="821.0" cy="198.6" rx="6.0" ry="6.2" fill="#8f36bb"/>
<ellipse cx="794.3" cy="215.6" rx="6.0" ry="6.2" fill="#794cce"/>
<ellipse cx="806.0" cy="182.7" rx="6.0" ry="6.2" fill="#0082f8"/>
<ellipse cx="776.3" cy="183.4" rx="6.0" ry="6.2" fill="#8047c9"/>
<ellipse cx="767.2" cy="175.5" rx="6.0" ry="6.2" fill="#007ef6"/>
<ellipse cx="759.8" cy="220.3" rx="6.0" ry="6.2" fill="#007ef6"/>
<ellipse cx="756.1" cy="190.1" rx="6.0" ry="6.2" fill="#0079f3"/>
<ellipse cx="757.8" cy="197.0" rx="6.0" ry="6.2" fill="#8f36bb"/>
<ellipse cx="744.6" cy="196.9" rx="6.0" ry="6.2" fill="#aa17a7"/>
<ellipse cx="800.3" cy="184.1" rx="6.0" ry="6.2" fill="#0077f2"/>
<ellipse cx="786.8" cy="186.2" rx="6.0" ry="6.2" fill="#883fc2"/>
<ellipse cx="768.4" cy="199.7" rx="6.0" ry="6.2" fill="#8047c9"/>
<ellipse cx="754.0" cy="188.9" rx="6.0" ry="6.2" fill="#c2009c"/>
<ellipse cx="794.0" cy="208.0" rx="6.0" ry="6.2" fill="#8a3cc0"/>
<ellipse cx="810.8" cy="198.5" rx="6.0" ry="6.2" fill="#883fc2"/>
<ellipse cx="828.3" cy="194.4" rx="6.0" ry="6.2" fill="#8d39be"/>
<ellipse cx="752.0" cy="186.6" rx="6.0" ry="6.2" fill="#962db3"/>
<ellipse cx="839.4" cy="194.6" rx="6.0" ry="6.2" fill="#0082f8"/>
<ellipse cx="775.3" cy="190.4" rx="6.0" ry="6.2" fill="#962db3"/>
<ellipse cx="750.7" cy="188.9" rx="6.0" ry="6.2" fill="#8f36bb"/>
<ellipse cx="809.9" cy="199.1" rx="6.0" ry="6.2" fill="#8a3cc0"/>
<ellipse cx="762.1" cy="200.2" rx="6.0" ry="6.2" fill="#9a25ae"/>
<ellipse cx="801.7" cy="179.9" rx="6.0" ry="6.2" fill="#962db3"/>
<ellipse cx="794.0" cy="205.5" rx="6.0" ry="6.2" fill="#fe005c"/>
<ellipse cx="799.4" cy="180.7" rx="6.0" ry="6.2" fill="#6459da"/>
<ellipse cx="788.9" cy="206.3" rx="6.0" ry="6.2" fill="#0081f7"/>
<ellipse cx="762.5" cy="197.8" rx="6.0" ry="6.2" fill="#c5009a"/>
<ellipse cx="798.0" cy="208.5" rx="6.0" ry="6.2" fill="#7d49cc"/>
<ellipse cx="792.6" cy="180.9" rx="6.0" ry="6.2" fill="#9a25ae"/>
<ellipse cx="768.4" cy="175.3" rx="6.0" ry="6.2" fill="#ff0053"/>
<ellipse cx="799.8" cy="214.2" rx="6.0" ry="6.2" fill="#c2009c"/>
<ellipse cx="762.6" cy="175.8" rx="6.0" ry="6.2" fill="#605bdc"/>
<ellipse cx="756.8" cy="187.3" rx="6.0" ry="6.2" fill="#fe005c"/>
<ellipse cx="759.4" cy="184.0" rx="6.0" ry="6.2" fill="#5261e1"/>
<ellipse cx="805.5" cy="177.9" rx="6.0" ry="6.2" fill="#007ff7"/>
<ellipse cx="802.9" cy="196.3" rx="6.0" ry="6.2" fill="#9233b9"/>
<ellipse cx="777.9" cy="185.3" rx="6.0" ry="6.2" fill="#0082f8"/>
<ellipse cx="803.4" cy="182.2" rx="6.0" ry="6.2" fill="#b604a2"/>
<ellipse cx="794.0" cy="213.3" rx="6.0" ry="6.2" fill="#8d39be"/>
<ellipse cx="754.4" cy="201.4" rx="6.0" ry="6.2" fill="#d6008e"/>
<ellipse cx="794.7" cy="203.9" rx="6.0" ry="6.2" fill="#007ef6"/>
<ellipse cx="841.5" cy="191.3" rx="6.0" ry="6.2" fill="#0082f8"/>
<ellipse cx="773.2" cy="199.0" rx="6.0" ry="6.2" fill="#962db3"/>
<ellipse cx="758.1" cy="214.0" rx="6.0" ry="6.2" fill="#9430b6"/>
<ellipse cx="825.9" cy="201.5" rx="6.0" ry="6.2" fill="#8a3cc0"/>
<ellipse cx="757.3" cy="204.3" rx="6.0" ry="6.2" fill="#9430b6"/>
<ellipse cx="734.9" cy="194.6" rx="6.0" ry="6.2" fill="#7d49cc"/>
<ellipse cx="782.4" cy="201.2" rx="6.0" ry="6.2" fill="#007cf5"/>
<ellipse cx="768.9" cy="187.6" rx="6.0" ry="6.2" fill="#9233b9"/>
<ellipse cx="762.8" cy="181.0" rx="6.0" ry="6.2" fill="#8d39be"/>
<ellipse cx="756.1" cy="178.2" rx="6.0" ry="6.2" fill="#dd0088"/>
<ellipse cx="786.3" cy="196.8" rx="6.0" ry="6.2" fill="#9829b1"/>
<ellipse cx="776.8" cy="187.2" rx="6.0" ry="6.2" fill="#dd0088"/>
<ellipse cx="806.9" cy="212.6" rx="6.0" ry="6.2" fill="#9233b9"/>
<ellipse cx="775.9" cy="202.1" rx="6.0" ry="6.2" fill="#0079f3"/>
<ellipse cx="761.9" cy="217.0" rx="6.0" ry="6.2" fill="#8244c7"/>
<ellipse cx="757.6" cy="206.7" rx="6.0" ry="6.2" fill="#8a3cc0"/>
<ellipse cx="759.9" cy="191.2" rx="6.0" ry="6.2" fill="#5b5ddd"/>
<ellipse cx="824.3" cy="198.4" rx="6.0" ry="6.2" fill="#8f36bb"/>
<ellipse cx="819.5" cy="198.5" rx="6.0" ry="6.2" fill="#8a3cc0"/>
<ellipse cx="799.8" cy="168.8" rx="6.0" ry="6.2" fill="#8047c9"/>
<ellipse cx="763.9" cy="180.6" rx="6.0" ry="6.2" fill="#8f36bb"/>
<ellipse cx="770.2" cy="184.4" rx="6.0" ry="6.2" fill="#cd0095"/>
<ellipse cx="775.5" cy="188.1" rx="6.0" ry="6.2" fill="#d10091"/>
<ellipse cx="790.9" cy="209.2" rx="6.0" ry="6.2" fill="#8047c9"/>
<ellipse cx="745.6" cy="199.1" rx="6.0" ry="6.2" fill="#6459da"/>
<ellipse cx="762.8" cy="218.3" rx="6.0" ry="6.2" fill="#8f36bb"/>
<ellipse cx="822.8" cy="196.3" rx="6.0" ry="6.2" fill="#8d39be"/>
<ellipse cx="774.2" cy="205.3" rx="6.0" ry="6.2" fill="#fe005c"/>
<ellipse cx="756.5" cy="216.4" rx="6.0" ry="6.2" fill="#007ef6"/>
<ellipse cx="802.7" cy="175.2" rx="6.0" ry="6.2" fill="#c2009c"/>
<ellipse cx="807.7" cy="207.8" rx="6.0" ry="6.2" fill="#9430b6"/>
<ellipse cx="779.1" cy="183.0" rx="6.0" ry="6.2" fill="#605bdc"/>
<ellipse cx="760.5" cy="191.1" rx="6.0" ry="6.2" fill="#0084f9"/>
<ellipse cx="789.5" cy="184.7" rx="6.0" ry="6.2" fill="#0076f1"/>
<ellipse cx="779.0" cy="190.7" rx="6.0" ry="6.2" fill="#0079f3"/>
<ellipse cx="778.5" cy="189.9" rx="6.0" ry="6.2" fill="#9a25ae"/>
<ellipse cx="766.3" cy="168.8" rx="6.0" ry="6.2" fill="#bc009f"/>
<ellipse cx="826.6" cy="199.9" rx="6.0" ry="6.2" fill="#8f36bb"/>
<ellipse cx="755.3" cy="185.3" rx="6.0" ry="6.2" fill="#8d39be"/>
<ellipse cx="776.2" cy="204.5" rx="6.0" ry="6.2" fill="#007ef6"/>
<ellipse cx="801.0" cy="169.6" rx="6.0" ry="6.2" fill="#007bf4"/>
<ellipse cx="794.0" cy="180.4" rx="6.0" ry="6.2" fill="#dd0088"/>
<ellipse cx="793.8" cy="171.5" rx="6.0" ry="6.2" fill="#5b5ddd"/>
<ellipse cx="777.1" cy="206.3" rx="6.0" ry="6.2" fill="#7d49cc"/>
<ellipse cx="802.5" cy="177.5" rx="6.0" ry="6.2" fill="#8f36bb"/>
<ellipse cx="744.8" cy="189.8" rx="6.0" ry="6.2" fill="#ff005a"/>
<ellipse cx="797.2" cy="177.4" rx="6.0" ry="6.2" fill="#d10091"/>
<ellipse cx="749.5" cy="197.8" rx="6.0" ry="6.2" fill="#d40090"/>
<ellipse cx="842.5" cy="195.4" rx="6.0" ry="6.2" fill="#007ff7"/>
<ellipse cx="834.4" cy="194.4" rx="6.0" ry="6.2" fill="#007ff7"/>
<ellipse cx="799.5" cy="216.6" rx="6.0" ry="6.2" fill="#ff0058"/>
<ellipse cx="740.9" cy="199.5" rx="6.0" ry="6.2" fill="#aa17a7"/>
<ellipse cx="779.8" cy="195.7" rx="6.0" ry="6.2" fill="#b604a2"/>
<ellipse cx="769.9" cy="196.1" rx="6.0" ry="6.2" fill="#bf009d"/>
<ellipse cx="761.7" cy="168.9" rx="6.0" ry="6.2" fill="#4664e4"/>
<ellipse cx="789.1" cy="189.7" rx="6.0" ry="6.2" fill="#9829b1"/>
<ellipse cx="790.9" cy="179.8" rx="6.0" ry="6.2" fill="#e10084"/>
<ellipse cx="761.8" cy="178.6" rx="6.0" ry="6.2" fill="#0079f3"/>
<ellipse cx="738.5" cy="189.9" rx="6.0" ry="6.2" fill="#8047c9"/>
<ellipse cx="773.0" cy="206.4" rx="6.0" ry="6.2" fill="#9829b1"/>
<ellipse cx="840.4" cy="199.9" rx="6.0" ry="6.2" fill="#007ef6"/>
<ellipse cx="829.6" cy="195.6" rx="6.0" ry="6.2" fill="#8d39be"/>
<ellipse cx="776.1" cy="184.8" rx="6.0" ry="6.2" fill="#007ff7"/>
<ellipse cx="779.1" cy="201.4" rx="6.0" ry="6.2" fill="#6c54d6"/>
<ellipse cx="798.6" cy="210.9" rx="6.0" ry="6.2" fill="#8047c9"/>
<ellipse cx="803.2" cy="214.7" rx="6.0" ry="6.2" fill="#8047c9"/>
<ellipse cx="843.3" cy="193.3" rx="6.0" ry="6.2" fill="#007ff7"/>
<ellipse cx="777.8" cy="196.8" rx="6.0" ry="6.2" fill="#ff0056"/>
<ellipse cx="772.1" cy="201.5" rx="6.0" ry="6.2" fill="#8047c9"/>
<ellipse cx="794.9" cy="201.5" rx="6.0" ry="6.2" fill="#ff0056"/>
<ellipse cx="781.9" cy="187.4" rx="6.0" ry="6.2" fill="#883fc2"/>
<ellipse cx="756.6" cy="209.3" rx="6.0" ry="6.2" fill="#bc009f"/>
<ellipse cx="796.9" cy="191.7" rx="6.0" ry="6.2" fill="#b604a2"/>
<ellipse cx="809.3" cy="200.9" rx="6.0" ry="6.2" fill="#962db3"/>
<ellipse cx="745.4" cy="196.7" rx="6.0" ry="6.2" fill="#605bdc"/>
<ellipse cx="770.3" cy="185.0" rx="6.0" ry="6.2" fill="#8244c7"/>
<ellipse cx="772.1" cy="176.7" rx="6.0" ry="6.2" fill="#9430b6"/>
<ellipse cx="797.5" cy="194.1" rx="6.0" ry="6.2" fill="#6857d8"/>
<ellipse cx="780.6" cy="188.1" rx="6.0" ry="6.2" fill="#007cf5"/>
<ellipse cx="755.6" cy="194.9" rx="6.0" ry="6.2" fill="#9a25ae"/>
<ellipse cx="765.4" cy="214.4" rx="6.0" ry="6.2" fill="#ff0053"/>
<ellipse cx="797.4" cy="189.3" rx="6.0" ry="6.2" fill="#c70098"/>
<ellipse cx="773.0" cy="193.1" rx="6.0" ry="6.2" fill="#7d49cc"/>
<ellipse cx="790.0" cy="196.9" rx="6.0" ry="6.2" fill="#ff0058"/>
<ellipse cx="773.6" cy="200.4" rx="6.0" ry="6.2" fill="#962db3"/>
<ellipse cx="793.8" cy="186.1" rx="6.0" ry="6.2" fill="#8244c7"/>
<ellipse cx="788.0" cy="202.6" rx="6.0" ry="6.2" fill="#962db3"/>
<ellipse cx="759.4" cy="186.4" rx="6.0" ry="6.2" fill="#0079f3"/>
<ellipse cx="746.4" cy="199.1" rx="6.0" ry="6.2" fill="#8244c7"/>
<ellipse cx="807.3" cy="184.0" rx="6.0" ry="6.2" fill="#0082f8"/>
<ellipse cx="782.0" cy="192.0" rx="6.0" ry="6.2" fill="#9d22ac"/>
<ellipse cx="840.9" cy="196.4" rx="6.0" ry="6.2" fill="#0081f7"/>
<ellipse cx="764.1" cy="197.9" rx="6.0" ry="6.2" fill="#007bf4"/>
<ellipse cx="760.4" cy="188.6" rx="6.0" ry="6.2" fill="#8244c7"/>
<ellipse cx="802.3" cy="191.6" rx="6.0" ry="6.2" fill="#d9008c"/>
<ellipse cx="763.6" cy="199.4" rx="6.0" ry="6.2" fill="#8f36bb"/>
<ellipse cx="804.4" cy="193.1" rx="6.0" ry="6.2" fill="#b900a0"/>
<ellipse cx="762.6" cy="213.6" rx="6.0" ry="6.2" fill="#8d39be"/>
<ellipse cx="790.6" cy="204.3" rx="6.0" ry="6.2" fill="#5b5ddd"/>
<ellipse cx="768.5" cy="182.8" rx="6.0" ry="6.2" fill="#0077f2"/>
<ellipse cx="764.0" cy="197.1" rx="6.0" ry="6.2" fill="#575fdf"/>
<ellipse cx="779.8" cy="198.2" rx="6.0" ry="6.2" fill="#9430b6"/>
<ellipse cx="758.5" cy="203.1" rx="6.0" ry="6.2" fill="#0081f7"/>
<ellipse cx="800.2" cy="197.5" rx="6.0" ry="6.2" fill="#8542c5"/>
<ellipse cx="803.6" cy="205.1" rx="6.0" ry="6.2" fill="#9d22ac"/>
<ellipse cx="757.2" cy="177.6" rx="6.0" ry="6.2" fill="#e10084"/>
<ellipse cx="773.0" cy="202.8" rx="6.0" ry="6.2" fill="#9430b6"/>
<ellipse cx="770.5" cy="205.5" rx="6.0" ry="6.2" fill="#9233b9"/>
<ellipse cx="773.7" cy="198.0" rx="6.0" ry="6.2" fill="#9233b9"/>
<ellipse cx="771.6" cy="196.5" rx="6.0" ry="6.2" fill="#0082f8"/>
<ellipse cx="762.7" cy="171.3" rx="6.0" ry="6.2" fill="#5261e1"/>
<ellipse cx="779.4" cy="194.5" rx="6.0" ry="6.2" fill="#dd0088"/>
<ellipse cx="794.9" cy="173.3" rx="6.0" ry="6.2" fill="#8542c5"/>
<ellipse cx="772.8" cy="191.6" rx="6.0" ry="6.2" fill="#007bf4"/>
<ellipse cx="797.0" cy="171.5" rx="6.0" ry="6.2" fill="#9829b1"/>
<ellipse cx="785.5" cy="189.5" rx="6.0" ry="6.2" fill="#7d49cc"/>
<ellipse cx="788.9" cy="196.8" rx="6.0" ry="6.2" fill="#9233b9"/>
<ellipse cx="824.3" cy="197.0" rx="6.0" ry="6.2" fill="#9233b9"/>
<ellipse cx="794.4" cy="199.2" rx="6.0" ry="6.2" fill="#7d49cc"/>
<ellipse cx="823.4" cy="186.9" rx="6.0" ry="6.2" fill="#8f36bb"/>
<ellipse cx="796.8" cy="197.9" rx="6.0" ry="6.2" fill="#8047c9"/>
<ellipse cx="794.0" cy="212.8" rx="6.0" ry="6.2" fill="#7d49cc"/>
<ellipse cx="764.2" cy="205.3" rx="6.0" ry="6.2" fill="#9430b6"/>
<ellipse cx="814.3" cy="192.0" rx="6.0" ry="6.2" fill="#b900a0"/>
<ellipse cx="738.5" cy="194.5" rx="6.0" ry="6.2" fill="#9829b1"/>
<ellipse cx="768.2" cy="185.2" rx="6.0" ry="6.2" fill="#8047c9"/>
<ellipse cx="749.8" cy="193.1" rx="6.0" ry="6.2" fill="#d6008e"/>
<ellipse cx="800.1" cy="204.6" rx="6.0" ry="6.2" fill="#6459da"/>
<ellipse cx="761.7" cy="202.6" rx="6.0" ry="6.2" fill="#7d49cc"/>
<ellipse cx="759.8" cy="186.2" rx="6.0" ry="6.2" fill="#8542c5"/>
<ellipse cx="759.5" cy="181.6" rx="6.0" ry="6.2" fill="#9430b6"/>
<ellipse cx="763.8" cy="185.3" rx="6.0" ry="6.2" fill="#8a3cc0"/>
<ellipse cx="786.6" cy="184.7" rx="6.0" ry="6.2" fill="#8244c7"/>
<ellipse cx="807.1" cy="205.4" rx="6.0" ry="6.2" fill="#5b5ddd"/>
<ellipse cx="762.1" cy="185.8" rx="6.0" ry="6.2" fill="#8047c9"/>
<ellipse cx="754.3" cy="178.9" rx="6.0" ry="6.2" fill="#cf0093"/>
<ellipse cx="762.7" cy="211.2" rx="6.0" ry="6.2" fill="#0081f7"/>
<ellipse cx="792.8" cy="176.2" rx="6.0" ry="6.2" fill="#605bdc"/>
<ellipse cx="782.6" cy="182.8" rx="6.0" ry="6.2" fill="#9a25ae"/>
<ellipse cx="756.7" cy="180.0" rx="6.0" ry="6.2" fill="#b30aa3"/>
<ellipse cx="727.8" cy="193.7" rx="6.0" ry="6.2" fill="#ff0056"/>
<ellipse cx="756.5" cy="206.9" rx="6.0" ry="6.2" fill="#8f36bb"/>
<ellipse cx="722.3" cy="193.7" rx="6.0" ry="6.2" fill="#ff0056"/>
<ellipse cx="822.5" cy="196.1" rx="6.0" ry="6.2" fill="#8a3cc0"/>
<ellipse cx="762.8" cy="176.2" rx="6.0" ry="6.2" fill="#9d22ac"/>
<ellipse cx="766.9" cy="180.8" rx="6.0" ry="6.2" fill="#0081f7"/>
<ellipse cx="792.0" cy="173.8" rx="6.0" ry="6.2" fill="#c5009a"/>
<ellipse cx="800.4" cy="176.9" rx="6.0" ry="6.2" fill="#ff0053"/>
<ellipse cx="784.9" cy="206.5" rx="6.0" ry="6.2" fill="#9829b1"/>
<ellipse cx="803.2" cy="183.5" rx="6.0" ry="6.2" fill="#bf009d"/>
<ellipse cx="785.1" cy="199.1" rx="6.0" ry="6.2" fill="#c2009c"/>
<ellipse cx="765.8" cy="195.5" rx="6.0" ry="6.2" fill="#6857d8"/>
<ellipse cx="759.4" cy="219.8" rx="6.0" ry="6.2" fill="#8d39be"/>
<ellipse cx="752.5" cy="184.1" rx="6.0" ry="6.2" fill="#8244c7"/>
<ellipse cx="744.8" cy="194.5" rx="6.0" ry="6.2" fill="#b604a2"/>
<ellipse cx="777.5" cy="199.1" rx="6.0" ry="6.2" fill="#0084f9"/>
<ellipse cx="749.3" cy="196.9" rx="6.0" ry="6.2" fill="#7d49cc"/>
<ellipse cx="796.8" cy="178.7" rx="6.0" ry="6.2" fill="#b00fa5"/>
<ellipse cx="798.6" cy="203.7" rx="6.0" ry="6.2" fill="#605bdc"/>
<ellipse cx="787.8" cy="204.9" rx="6.0" ry="6.2" fill="#6857d8"/>
<ellipse cx="800.5" cy="193.8" rx="6.0" ry="6.2" fill="#883fc2"/>
<ellipse cx="793.0" cy="183.6" rx="6.0" ry="6.2" fill="#8542c5"/>
<ellipse cx="744.1" cy="189.8" rx="6.0" ry="6.2" fill="#ff0058"/>
<ellipse cx="805.0" cy="194.9" rx="6.0" ry="6.2" fill="#d40090"/>
<ellipse cx="805.7" cy="187.6" rx="6.0" ry="6.2" fill="#c2009c"/>
<ellipse cx="760.8" cy="174.0" rx="6.0" ry="6.2" fill="#9430b6"/>
<ellipse cx="794.0" cy="169.1" rx="6.0" ry="6.2" fill="#d9008c"/>
<ellipse cx="791.4" cy="204.3" rx="6.0" ry="6.2" fill="#cd0095"/>
<ellipse cx="781.5" cy="198.1" rx="6.0" ry="6.2" fill="#8d39be"/>
<ellipse cx="840.4" cy="193.8" rx="6.0" ry="6.2" fill="#0081f7"/>
<ellipse cx="804.2" cy="190.7" rx="6.0" ry="6.2" fill="#9430b6"/>
<ellipse cx="770.0" cy="193.8" rx="6.0" ry="6.2" fill="#9430b6"/>
<ellipse cx="759.9" cy="205.7" rx="6.0" ry="6.2" fill="#d40090"/>
<ellipse cx="782.2" cy="185.1" rx="6.0" ry="6.2" fill="#9d22ac"/>
<ellipse cx="783.6" cy="184.9" rx="6.0" ry="6.2" fill="#962db3"/>
<ellipse cx="751.2" cy="193.8" rx="6.0" ry="6.2" fill="#c5009a"/>
<ellipse cx="768.7" cy="170.7" rx="6.0" ry="6.2" fill="#575fdf"/>
<ellipse cx="776.0" cy="192.8" rx="6.0" ry="6.2" fill="#7d49cc"/>
<ellipse cx="746.2" cy="189.7" rx="6.0" ry="6.2" fill="#794cce"/>
<ellipse cx="759.2" cy="200.7" rx="6.0" ry="6.2" fill="#6c54d6"/>
<ellipse cx="790.3" cy="206.7" rx="6.0" ry="6.2" fill="#9233b9"/>
<ellipse cx="741.9" cy="197.1" rx="6.0" ry="6.2" fill="#ff0056"/>
<ellipse cx="773.4" cy="181.6" rx="6.0" ry="6.2" fill="#007ff7"/>
<ellipse cx="815.7" cy="196.4" rx="6.0" ry="6.2" fill="#9233b9"/>
<ellipse cx="786.7" cy="201.7" rx="6.0" ry="6.2" fill="#883fc2"/>
<ellipse cx="797.3" cy="217.1" rx="6.0" ry="6.2" fill="#cf0093"/>
<ellipse cx="838.8" cy="191.4" rx="6.0" ry="6.2" fill="#0084f9"/>
<ellipse cx="791.3" cy="189.6" rx="6.0" ry="6.2" fill="#9a25ae"/>
<ellipse cx="752.2" cy="198.6" rx="6.0" ry="6.2" fill="#0084f9"/>
<ellipse cx="827.3" cy="189.1" rx="6.0" ry="6.2" fill="#8d39be"/>
<ellipse cx="792.7" cy="213.7" rx="6.0" ry="6.2" fill="#007cf5"/>
<ellipse cx="805.0" cy="192.5" rx="6.0" ry="6.2" fill="#007cf5"/>
<ellipse cx="825.0" cy="192.4" rx="6.0" ry="6.2" fill="#9233b9"/>
<ellipse cx="797.1" cy="170.2" rx="6.0" ry="6.2" fill="#605bdc"/>
<ellipse cx="783.2" cy="198.9" rx="6.0" ry="6.2" fill="#9430b6"/>
<ellipse cx="736.3" cy="190.9" rx="6.0" ry="6.2" fill="#ff0053"/>
<ellipse cx="790.6" cy="177.4" rx="6.0" ry="6.2" fill="#007ef6"/>
<ellipse cx="803.6" cy="181.1" rx="6.0" ry="6.2" fill="#0077f2"/>
<ellipse cx="801.2" cy="198.7" rx="6.0" ry="6.2" fill="#007cf5"/>
<ellipse cx="776.7" cy="199.2" rx="6.0" ry="6.2" fill="#c2009c"/>
<ellipse cx="794.2" cy="203.1" rx="6.0" ry="6.2" fill="#962db3"/>
<ellipse cx="812.5" cy="191.4" rx="6.0" ry="6.2" fill="#883fc2"/>
<ellipse cx="765.7" cy="212.6" rx="6.0" ry="6.2" fill="#0081f7"/>
<ellipse cx="758.8" cy="217.4" rx="6.0" ry="6.2" fill="#c5009a"/>
<ellipse cx="797.3" cy="215.7" rx="6.0" ry="6.2" fill="#4c63e3"/>
<ellipse cx="792.9" cy="178.5" rx="6.0" ry="6.2" fill="#0079f3"/>
<ellipse cx="802.0" cy="170.5" rx="6.0" ry="6.2" fill="#7d49cc"/>
<ellipse cx="789.5" cy="187.1" rx="6.0" ry="6.2" fill="#962db3"/>
<ellipse cx="794.0" cy="181.2" rx="6.0" ry="6.2" fill="#8047c9"/>
<ellipse cx="792.7" cy="192.6" rx="6.0" ry="6.2" fill="#5261e1"/>
<ellipse cx="781.9" cy="193.1" rx="6.0" ry="6.2" fill="#7d49cc"/>
<ellipse cx="839.1" cy="189.4" rx="6.0" ry="6.2" fill="#007ef6"/>
<ellipse cx="788.2" cy="184.9" rx="6.0" ry="6.2" fill="#007bf4"/>
<ellipse cx="786.7" cy="182.3" rx="6.0" ry="6.2" fill="#9829b1"/>
<ellipse cx="756.2" cy="180.6" rx="6.0" ry="6.2" fill="#9829b1"/>
<ellipse cx="728.9" cy="193.7" rx="6.0" ry="6.2" fill="#ff0056"/>
<ellipse cx="798.5" cy="179.8" rx="6.0" ry="6.2" fill="#bc009f"/>
<ellipse cx="760.5" cy="178.9" rx="6.0" ry="6.2" fill="#8542c5"/>
<ellipse cx="740.1" cy="199.1" rx="6.0" ry="6.2" fill="#ff0056"/>
<ellipse cx="754.5" cy="191.4" rx="6.0" ry="6.2" fill="#8047c9"/>
<ellipse cx="765.1" cy="183.3" rx="6.0" ry="6.2" fill="#7d49cc"/>
<ellipse cx="820.1" cy="190.1" rx="6.0" ry="6.2" fill="#9829b1"/>
<ellipse cx="790.7" cy="194.5" rx="6.0" ry="6.2" fill="#d6008e"/>
<ellipse cx="776.5" cy="192.0" rx="6.0" ry="6.2" fill="#9233b9"/>
<ellipse cx="822.8" cy="203.0" rx="6.0" ry="6.2" fill="#9233b9"/>
<ellipse cx="824.3" cy="203.7" rx="6.0" ry="6.2" fill="#962db3"/>
<ellipse cx="774.2" cy="207.7" rx="6.0" ry="6.2" fill="#605bdc"/>
<ellipse cx="822.0" cy="200.8" rx="6.0" ry="6.2" fill="#9233b9"/>
<ellipse cx="756.8" cy="199.4" rx="6.0" ry="6.2" fill="#7d49cc"/>
<ellipse cx="770.2" cy="194.7" rx="6.0" ry="6.2" fill="#0079f3"/>
<ellipse cx="808.3" cy="186.6" rx="6.0" ry="6.2" fill="#007ff7"/>
<ellipse cx="803.3" cy="186.9" rx="6.0" ry="6.2" fill="#9a25ae"/>
<ellipse cx="799.9" cy="189.0" rx="6.0" ry="6.2" fill="#8f36bb"/>
<ellipse cx="785.0" cy="199.3" rx="6.0" ry="6.2" fill="#883fc2"/>
<ellipse cx="793.3" cy="190.9" rx="6.0" ry="6.2" fill="#b30aa3"/>
<ellipse cx="773.2" cy="188.3" rx="6.0" ry="6.2" fill="#007ef6"/>
<ellipse cx="784.3" cy="192.0" rx="6.0" ry="6.2" fill="#b900a0"/>
<ellipse cx="809.1" cy="201.4" rx="6.0" ry="6.2" fill="#8f36bb"/>
<ellipse cx="797.4" cy="166.7" rx="6.0" ry="6.2" fill="#8d39be"/>
<ellipse cx="806.7" cy="203.1" rx="6.0" ry="6.2" fill="#c5009a"/>
<ellipse cx="767.0" cy="207.0" rx="6.0" ry="6.2" fill="#bc009f"/>
<ellipse cx="748.1" cy="199.5" rx="6.0" ry="6.2" fill="#ad13a6"/>
<ellipse cx="770.7" cy="200.8" rx="6.0" ry="6.2" fill="#ff0056"/>
<ellipse cx="771.8" cy="207.8" rx="6.0" ry="6.2" fill="#d10091"/>
<ellipse cx="766.6" cy="183.2" rx="6.0" ry="6.2" fill="#9a25ae"/>
<ellipse cx="741.9" cy="189.8" rx="6.0" ry="6.2" fill="#ff0051"/>
<ellipse cx="800.8" cy="210.8" rx="6.0" ry="6.2" fill="#007bf4"/>
<ellipse cx="838.0" cy="193.4" rx="6.0" ry="6.2" fill="#007ff7"/>
<ellipse cx="826.7" cy="195.6" rx="6.0" ry="6.2" fill="#962db3"/>
<ellipse cx="747.7" cy="191.8" rx="6.0" ry="6.2" fill="#6459da"/>
<ellipse cx="824.1" cy="187.9" rx="6.0" ry="6.2" fill="#8f36bb"/>
<ellipse cx="801.5" cy="191.4" rx="6.0" ry="6.2" fill="#b900a0"/>
<ellipse cx="768.8" cy="204.5" rx="6.0" ry="6.2" fill="#8d39be"/>
<ellipse cx="765.9" cy="209.6" rx="6.0" ry="6.2" fill="#0079f3"/>
<ellipse cx="780.9" cy="190.6" rx="6.0" ry="6.2" fill="#b604a2"/>
<ellipse cx="805.6" cy="214.3" rx="6.0" ry="6.2" fill="#8244c7"/>
<ellipse cx="761.0" cy="181.3" rx="6.0" ry="6.2" fill="#b604a2"/>
<ellipse cx="797.7" cy="196.5" rx="6.0" ry="6.2" fill="#6857d8"/>
<ellipse cx="757.1" cy="182.5" rx="6.0" ry="6.2" fill="#ff005a"/>
<ellipse cx="759.4" cy="169.7" rx="6.0" ry="6.2" fill="#d10091"/>
<ellipse cx="819.2" cy="194.3" rx="6.0" ry="6.2" fill="#8d39be"/>
<ellipse cx="787.8" cy="195.6" rx="6.0" ry="6.2" fill="#ff0053"/>
<ellipse cx="800.1" cy="199.9" rx="6.0" ry="6.2" fill="#9233b9"/>
<ellipse cx="789.6" cy="194.4" rx="6.0" ry="6.2" fill="#8244c7"/>
<ellipse cx="741.6" cy="194.7" rx="6.0" ry="6.2" fill="#a31daa"/>
<ellipse cx="748.5" cy="194.4" rx="6.0" ry="6.2" fill="#883fc2"/>
<ellipse cx="767.1" cy="204.8" rx="6.0" ry="6.2" fill="#9233b9"/>
<ellipse cx="804.9" cy="204.6" rx="6.0" ry="6.2" fill="#6459da"/>
<ellipse cx="756.2" cy="171.0" rx="6.0" ry="6.2" fill="#5261e1"/>
<ellipse cx="786.7" cy="190.9" rx="6.0" ry="6.2" fill="#9d22ac"/>
<ellipse cx="792.1" cy="194.9" rx="6.0" ry="6.2" fill="#9829b1"/>
<ellipse cx="777.6" cy="182.4" rx="6.0" ry="6.2" fill="#9233b9"/>
<ellipse cx="771.6" cy="204.0" rx="6.0" ry="6.2" fill="#b900a0"/>
<ellipse cx="837.3" cy="195.6" rx="6.0" ry="6.2" fill="#0081f7"/>
<ellipse cx="800.4" cy="187.9" rx="6.0" ry="6.2" fill="#0082f8"/>
<ellipse cx="765.4" cy="190.6" rx="6.0" ry="6.2" fill="#8d39be"/>
<ellipse cx="806.5" cy="191.2" rx="6.0" ry="6.2" fill="#8542c5"/>
<circle cx="752.7" cy="182.9" r="5.0" fill="#ee0076"/>
<circle cx="766.0" cy="167.6" r="5.0" fill="#9430b6"/>
<circle cx="756.2" cy="176.0" r="5.0" fill="#ff0056"/>
<circle cx="768.8" cy="177.4" r="5.0" fill="#8d39be"/>
<circle cx="775.7" cy="179.9" r="5.0" fill="#9d22ac"/>
<circle cx="747.8" cy="188.1" r="5.0" fill="#8244c7"/>
<circle cx="753.4" cy="187.1" r="5.0" fill="#b604a2"/>
<circle cx="760.4" cy="187.1" r="5.0" fill="#8d39be"/>
<circle cx="766.0" cy="186.4" r="5.0" fill="#4664e4"/>
<circle cx="774.3" cy="182.9" r="5.0" fill="#007ff7"/>
<circle cx="756.2" cy="195.5" r="5.0" fill="#794cce"/>
<circle cx="764.6" cy="195.5" r="5.0" fill="#6857d8"/>
<circle cx="772.9" cy="196.9" r="5.0" fill="#0076f1"/>
<circle cx="754.8" cy="203.9" r="5.0" fill="#db008a"/>
<circle cx="766.0" cy="206.7" r="5.0" fill="#8d39be"/>
<circle cx="778.5" cy="202.5" r="5.0" fill="#007ff7"/>
<circle cx="759.0" cy="215.1" r="5.0" fill="#a71aa9"/>
<circle cx="768.8" cy="212.8" r="5.0" fill="#9430b6"/>
<circle cx="759.0" cy="221.0" r="5.0" fill="#ff0056"/>
<circle cx="778.5" cy="207.3" r="5.0" fill="#007ff7"/>
<circle cx="793.9" cy="167.9" r="5.0" fill="#ff0056"/>
<circle cx="788.3" cy="179.0" r="5.0" fill="#6c54d6"/>
<circle cx="802.3" cy="170.4" r="5.0" fill="#7d49cc"/>
<circle cx="810.7" cy="188.9" r="5.0" fill="#883fc2"/>
<circle cx="791.1" cy="178.8" r="5.0" fill="#8244c7"/>
<circle cx="782.7" cy="185.7" r="5.0" fill="#ff0056"/>
<circle cx="802.3" cy="189.9" r="5.0" fill="#ff0056"/>
<circle cx="793.9" cy="189.9" r="5.0" fill="#9d22ac"/>
<circle cx="810.7" cy="188.9" r="5.0" fill="#4c63e3"/>
<circle cx="791.1" cy="195.5" r="5.0" fill="#007ff7"/>
<circle cx="798.1" cy="201.1" r="5.0" fill="#c2009c"/>
<circle cx="807.9" cy="201.1" r="5.0" fill="#8244c7"/>
<circle cx="813.5" cy="195.5" r="5.0" fill="#9d22ac"/>
<circle cx="789.7" cy="212.3" r="5.0" fill="#007ff7"/>
<circle cx="800.9" cy="210.9" r="5.0" fill="#883fc2"/>
<circle cx="809.3" cy="202.6" r="5.0" fill="#ad13a6"/>
<circle cx="796.7" cy="220.7" r="5.0" fill="#4c63e3"/>
<circle cx="793.9" cy="216.5" r="5.0" fill="#f7006a"/>
<circle cx="786.9" cy="203.9" r="5.0" fill="#007ff7"/>
<circle cx="737.5" cy="190.0" r="5.0" fill="#9d22ac"/>
<circle cx="744.0" cy="190.0" r="5.0" fill="#9d22ac"/>
<circle cx="741.0" cy="197.9" r="5.0" fill="#764ed0"/>
<circle cx="821.0" cy="190.0" r="5.0" fill="#9233b9"/>
<circle cx="826.0" cy="197.0" r="5.0" fill="#9430b6"/>
<circle cx="824.0" cy="204.2" r="5.0" fill="#5b5ddd"/>
<circle cx="828.0" cy="190.4" r="5.0" fill="#9430b6"/>
<circle cx="820.5" cy="199.7" r="5.0" fill="#0079f3"/>
<ellipse cx="1004.7" cy="195.3" rx="6.0" ry="6.2" fill="#007ff7"/>
<ellipse cx="1009.2" cy="192.5" rx="6.0" ry="6.2" fill="#007ff7"/>
<ellipse cx="1013.7" cy="195.3" rx="6.0" ry="6.2" fill="#007ff7"/>
<ellipse cx="1037.8" cy="193.9" rx="6.0" ry="6.2" fill="#007ff7"/>
<ellipse cx="1050.4" cy="193.9" rx="6.0" ry="6.2" fill="#007ff7"/>
<ellipse cx="1064.0" cy="193.9" rx="6.0" ry="6.2" fill="#007ff7"/>
<ellipse cx="1250.7" cy="195.9" rx="6.0" ry="6.2" fill="#0082f8"/>
<ellipse cx="1255.9" cy="193.1" rx="6.0" ry="6.2" fill="#0082f8"/>
<ellipse cx="1257.7" cy="195.9" rx="6.0" ry="6.2" fill="#0082f8"/>
<ellipse cx="1269.2" cy="195.9" rx="6.0" ry="6.2" fill="#0082f8"/>
<ellipse cx="1272.0" cy="192.8" rx="6.0" ry="6.2" fill="#0082f8"/>
<ellipse cx="1286.3" cy="195.2" rx="6.0" ry="6.2" fill="#0082f8"/>
<ellipse cx="862.8" cy="279.0" rx="6.0" ry="6.2" fill="#0081f7"/>
<rect x="853.30" y="343.60" width="12.0" height="66.30" rx="6.0" ry="6.2" fill="#0081f7"/>
<rect x="856.00" y="369.40" width="12.0" height="16.70" rx="6.0" ry="6.2" fill="#0081f7"/>
<rect x="856.98" y="369.40" width="12.0" height="16.70" rx="6.0" ry="6.2" fill="#0081f7"/>
<rect x="857.95" y="369.40" width="12.0" height="16.70" rx="6.0" ry="6.2" fill="#0081f7"/>
<rect x="858.92" y="369.40" width="12.0" height="16.70" rx="6.0" ry="6.2" fill="#0081f7"/>
<rect x="859.90" y="369.40" width="12.0" height="16.70" rx="6.0" ry="6.2" fill="#0081f7"/>
<ellipse cx="851.9" cy="370.8" rx="6.0" ry="6.2" fill="#ff0056"/>
<ellipse cx="870.5" cy="377.8" rx="6.0" ry="6.2" fill="#0081f7"/>
<ellipse cx="876.5" cy="375.6" rx="6.0" ry="6.2" fill="#0081f7"/>
<ellipse cx="877.8" cy="378.6" rx="6.0" ry="6.2" fill="#ff0056"/>
<rect x="384.0" y="471.3" width="948.0" height="2.4" fill="#000"/>
<rect x="400.3" y="472.5" width="2.2" height="11" fill="#000"/>
<rect x="552.1" y="472.5" width="2.2" height="11" fill="#000"/>
<rect x="703.9" y="472.5" width="2.2" height="11" fill="#000"/>
<rect x="855.8" y="472.5" width="2.2" height="11" fill="#000"/>
<rect x="1007.6" y="472.5" width="2.2" height="11" fill="#000"/>
<rect x="1159.4" y="472.5" width="2.2" height="11" fill="#000"/>
<rect x="1311.2" y="472.5" width="2.2" height="11" fill="#000"/>
<rect x="1388.5" y="12" width="6" height="459" fill="url(#cb)"/>
<text transform="translate(3.30,119.30) scale(1.1120,1)" x="-1.11" y="0" font-family="Liberation Sans" font-size="37.0" fill="#333333">serum_creatinine</text>
<text transform="translate(13.60,212.50) scale(1.1353,1)" x="-1.48" y="0" font-family="Liberation Sans" font-size="37.0" fill="#333333">ejection_fraction</text>
<text transform="translate(260.00,302.10) scale(1.0166,1)" x="-1.11" y="0" font-family="Liberation Sans" font-size="37.0" fill="#333333">sex</text>
<text transform="translate(162.60,395.30) scale(1.1264,1)" x="-1.48" y="0" font-family="Liberation Sans" font-size="37.0" fill="#333333">diabetes</text>
<text transform="translate(366.60,516.00) scale(1.0546,1)" x="-1.74" y="0" font-family="Liberation Sans" font-size="34.7" fill="#333333">−0.6</text>
<text transform="translate(519.10,516.00) scale(1.0369,1)" x="-1.74" y="0" font-family="Liberation Sans" font-size="34.7" fill="#333333">−0.4</text>
<text transform="translate(671.20,516.00) scale(1.0603,1)" x="-1.74" y="0" font-family="Liberation Sans" font-size="34.7" fill="#333333">−0.2</text>
<text transform="translate(833.60,516.00) scale(0.9965,1)" x="-1.39" y="0" font-family="Liberation Sans" font-size="34.7" fill="#333333">0.0</text>
<text transform="translate(986.10,516.00) scale(0.9976,1)" x="-1.39" y="0" font-family="Liberation Sans" font-size="34.7" fill="#333333">0.2</text>
<text transform="translate(1136.00,516.00) scale(1.0130,1)" x="-1.39" y="0" font-family="Liberation Sans" font-size="34.7" fill="#333333">0.4</text>
<text transform="translate(1288.80,516.00) scale(0.9855,1)" x="-1.39" y="0" font-family="Liberation Sans" font-size="34.7" fill="#333333">0.6</text>
<text transform="translate(512.20,562.30) scale(0.9609,1)" x="-1.85" y="0" font-family="Liberation Sans" font-size="37.1" fill="#000">SHAP</text>
<text transform="translate(622.40,562.30) scale(1.1011,1)" x="0.00" y="0" font-family="Liberation Sans" font-size="37.1" fill="#000">value</text>
<text transform="translate(734.00,562.30) scale(1.1655,1)" x="-2.23" y="0" font-family="Liberation Sans" font-size="37.1" fill="#000">(impact</text>
<text transform="translate(886.00,562.30) scale(1.1209,1)" x="-1.48" y="0" font-family="Liberation Sans" font-size="37.1" fill="#000">on</text>
<text transform="translate(943.60,562.30) scale(1.1489,1)" x="-2.60" y="0" font-family="Liberation Sans" font-size="37.1" fill="#000">model</text>
<text transform="translate(1068.40,562.30) scale(1.1722,1)" x="-1.48" y="0" font-family="Liberation Sans" font-size="37.1" fill="#000">output)</text>
<text transform="translate(1406.60,25.80) scale(0.9939,1)" x="-2.75" y="0" font-family="Liberation Sans" font-size="34.4" fill="#000">High</text>
<text transform="translate(1406.90,485.30) scale(0.9140,1)" x="-2.80" y="0" font-family="Liberation Sans" font-size="35.0" fill="#000">Low</text>
<text transform="translate(1497.7,359.10) rotate(-90) scale(1.0657,1)" x="-2.74" y="0" font-family="Liberation Sans" font-size="34.2" fill="#000">Feature</text>
<text transform="translate(1497.7,221.30) rotate(-90) scale(1.1074,1)" x="0.00" y="0" font-family="Liberation Sans" font-size="34.2" fill="#000">value</text>
</svg>
</body></html>
